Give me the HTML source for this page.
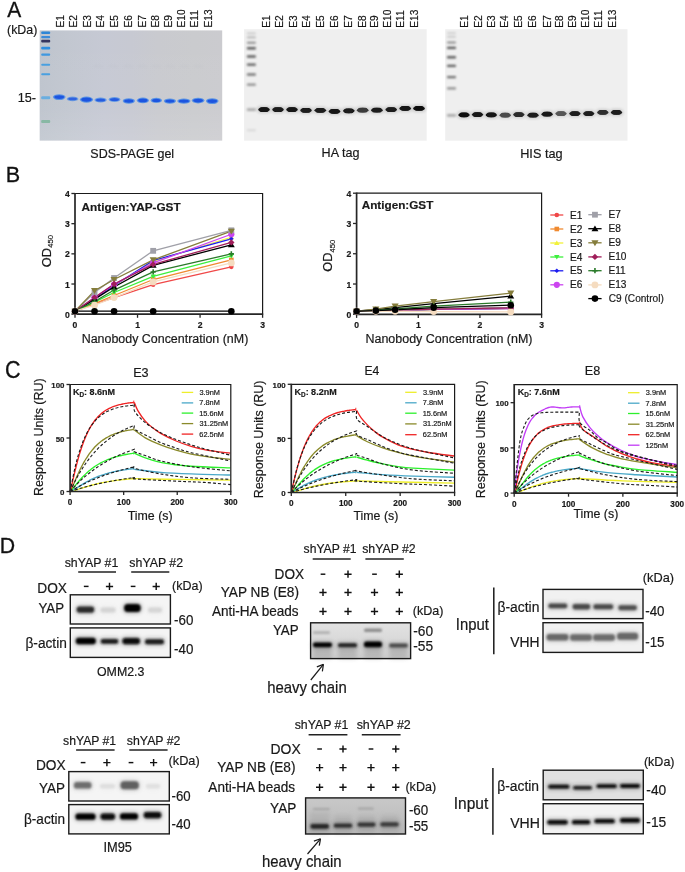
<!DOCTYPE html>
<html><head><meta charset="utf-8"><style>
html,body{margin:0;padding:0;background:#fff;}
body{width:685px;height:872px;overflow:hidden;}
svg{display:block;filter:blur(0.3px);}
text{font-family:'Liberation Sans', sans-serif;stroke:#111;stroke-width:0.18px;}
</style></head><body>
<svg width="685" height="872" viewBox="0 0 685 872" font-family="'Liberation Sans', sans-serif">
<defs>
<filter id="b05" x="-50%" y="-50%" width="200%" height="200%"><feGaussianBlur stdDeviation="0.5"/></filter>
<filter id="b06" x="-50%" y="-80%" width="200%" height="260%"><feGaussianBlur stdDeviation="0.6"/></filter>
<filter id="b08" x="-50%" y="-80%" width="200%" height="260%"><feGaussianBlur stdDeviation="0.8"/></filter>
<filter id="b1" x="-50%" y="-80%" width="200%" height="260%"><feGaussianBlur stdDeviation="1"/></filter>
<filter id="b15" x="-50%" y="-100%" width="200%" height="300%"><feGaussianBlur stdDeviation="1.5"/></filter>
<filter id="b2" x="-50%" y="-100%" width="200%" height="300%"><feGaussianBlur stdDeviation="2"/></filter>
<filter id="b3" x="-50%" y="-100%" width="200%" height="300%"><feGaussianBlur stdDeviation="3"/></filter>
<filter id="txt" x="-5%" y="-20%" width="110%" height="140%"><feGaussianBlur stdDeviation="0.25"/></filter>
</defs>
<rect width="685" height="872" fill="#fff"/>
<text transform="translate(7.36,16.50) scale(1.0481,1.1047)" font-size="20.0" fill="#111" style="stroke-width:0.279px">A</text>
<text transform="translate(5.63,181.70) scale(1.0804,1.1192)" font-size="20.0" fill="#111" style="stroke-width:0.273px">B</text>
<text transform="translate(5.01,378.08) scale(1.0737,1.1511)" font-size="20.0" fill="#111" style="stroke-width:0.270px">C</text>
<text transform="translate(-0.25,552.50) scale(1.0637,1.1192)" font-size="20.0" fill="#111" style="stroke-width:0.275px">D</text>
<text transform="translate(7.03,33.60) scale(1,1.07)" font-size="12.41" fill="#1a1a1a">(kDa)</text>
<text transform="translate(17.63,102.00) scale(1,1.07)" font-size="12.68" fill="#1a1a1a">15-</text>
<defs><linearGradient id="g1bg" x1="0" x2="1" y1="0" y2="0"><stop offset="0" stop-color="#bec4cd"/><stop offset="0.15" stop-color="#c2c7d0"/><stop offset="0.35" stop-color="#c6c9d4"/><stop offset="0.5" stop-color="#c7c9d2"/><stop offset="0.65" stop-color="#c9cacf"/><stop offset="0.85" stop-color="#cacbce"/><stop offset="1" stop-color="#cbcbcf"/></linearGradient><linearGradient id="g1v" x1="0" x2="0" y1="0" y2="1"><stop offset="0" stop-color="#fff" stop-opacity="0"/><stop offset="0.7" stop-color="#fff" stop-opacity="0.03"/><stop offset="1" stop-color="#fff" stop-opacity="0.12"/></linearGradient></defs>
<rect x="39.7" y="30.4" width="182.5" height="110.19999999999999" fill="url(#g1bg)"/>
<rect x="39.7" y="30.4" width="182.5" height="110.19999999999999" fill="url(#g1v)"/>
<g filter="url(#b05)">
<rect x="41.2" y="31.40" width="9" height="2.6" rx="1" fill="#2f86d6"/>
<rect x="41.2" y="35.95" width="9" height="2.3" rx="1" fill="#3a8ad8"/>
<rect x="41.2" y="39.80" width="9" height="2.6" rx="1" fill="#353660"/>
<rect x="41.2" y="46.80" width="9" height="2.6" rx="1" fill="#2f8ee0"/>
<rect x="41.2" y="53.60" width="9" height="2.2" rx="1" fill="#3f98e0"/>
<rect x="41.2" y="63.70" width="9" height="2.0" rx="1" fill="#4aa0e0"/>
<rect x="41.2" y="73.30" width="9" height="2.0" rx="1" fill="#4aa0e0"/>
<rect x="41.2" y="96.30" width="9" height="3.0" rx="1" fill="#6aaee0"/>
<rect x="41.2" y="119.90" width="9" height="3.0" rx="1" fill="#88b8a4"/>
</g>
<g filter="url(#b05)">
<ellipse cx="59.2" cy="97.1" rx="6.35" ry="2.90" fill="#4f8fe6" opacity="0.90"/>
<ellipse cx="59.2" cy="97.1" rx="4.95" ry="1.90" fill="#1f55e0" opacity="1.00"/>
<ellipse cx="72.6" cy="98.9" rx="5.85" ry="2.40" fill="#4f8fe6" opacity="0.72"/>
<ellipse cx="72.6" cy="98.9" rx="4.45" ry="1.40" fill="#1f55e0" opacity="0.80"/>
<ellipse cx="86.5" cy="99.6" rx="6.60" ry="3.10" fill="#4f8fe6" opacity="0.90"/>
<ellipse cx="86.5" cy="99.6" rx="5.20" ry="2.10" fill="#1f55e0" opacity="1.00"/>
<ellipse cx="100.6" cy="100.0" rx="6.10" ry="2.60" fill="#4f8fe6" opacity="0.81"/>
<ellipse cx="100.6" cy="100.0" rx="4.70" ry="1.60" fill="#1f55e0" opacity="0.90"/>
<ellipse cx="114.5" cy="99.6" rx="5.85" ry="2.50" fill="#4f8fe6" opacity="0.81"/>
<ellipse cx="114.5" cy="99.6" rx="4.45" ry="1.50" fill="#1f55e0" opacity="0.90"/>
<ellipse cx="128.8" cy="101.0" rx="6.10" ry="2.70" fill="#4f8fe6" opacity="0.90"/>
<ellipse cx="128.8" cy="101.0" rx="4.70" ry="1.70" fill="#1f55e0" opacity="1.00"/>
<ellipse cx="142.9" cy="100.4" rx="6.10" ry="2.80" fill="#4f8fe6" opacity="0.90"/>
<ellipse cx="142.9" cy="100.4" rx="4.70" ry="1.80" fill="#1f55e0" opacity="1.00"/>
<ellipse cx="156.3" cy="100.4" rx="5.60" ry="2.60" fill="#4f8fe6" opacity="0.90"/>
<ellipse cx="156.3" cy="100.4" rx="4.20" ry="1.60" fill="#1f55e0" opacity="1.00"/>
<ellipse cx="169.9" cy="101.1" rx="6.10" ry="2.70" fill="#4f8fe6" opacity="0.90"/>
<ellipse cx="169.9" cy="101.1" rx="4.70" ry="1.70" fill="#1f55e0" opacity="1.00"/>
<ellipse cx="183.9" cy="101.1" rx="6.60" ry="2.70" fill="#4f8fe6" opacity="0.90"/>
<ellipse cx="183.9" cy="101.1" rx="5.20" ry="1.70" fill="#1f55e0" opacity="1.00"/>
<ellipse cx="198.1" cy="100.6" rx="6.35" ry="2.80" fill="#4f8fe6" opacity="0.90"/>
<ellipse cx="198.1" cy="100.6" rx="4.95" ry="1.80" fill="#1f55e0" opacity="1.00"/>
<ellipse cx="212.2" cy="101.1" rx="6.35" ry="2.90" fill="#4f8fe6" opacity="0.90"/>
<ellipse cx="212.2" cy="101.1" rx="4.95" ry="1.90" fill="#1f55e0" opacity="1.00"/>
</g>
<ellipse cx="98" cy="66" rx="5" ry="1.5" fill="#b8bcc4" opacity="0.15" filter="url(#b08)"/>
<ellipse cx="113" cy="66" rx="5" ry="1.5" fill="#b8bcc4" opacity="0.15" filter="url(#b08)"/>
<ellipse cx="128" cy="66" rx="5" ry="1.5" fill="#b8bcc4" opacity="0.15" filter="url(#b08)"/>
<ellipse cx="142" cy="66" rx="5" ry="1.5" fill="#b8bcc4" opacity="0.15" filter="url(#b08)"/>
<ellipse cx="156" cy="66" rx="5" ry="1.5" fill="#b8bcc4" opacity="0.15" filter="url(#b08)"/>
<ellipse cx="170" cy="66" rx="5" ry="1.5" fill="#b8bcc4" opacity="0.15" filter="url(#b08)"/>
<ellipse cx="184" cy="66" rx="5" ry="1.5" fill="#b8bcc4" opacity="0.15" filter="url(#b08)"/>
<ellipse cx="198" cy="66" rx="5" ry="1.5" fill="#b8bcc4" opacity="0.15" filter="url(#b08)"/>
<text transform="translate(90.33,157.80) scale(1,1.07)" font-size="12.51" fill="#1a1a1a">SDS-PAGE gel</text>
<rect x="244.1" y="29.2" width="182.6" height="111.49999999999999" fill="#efefef"/>
<rect x="244.1" y="29.2" width="8.7" height="111.49999999999999" fill="#fff" opacity="0.039"/>
<rect x="252.8" y="29.2" width="7.1" height="111.49999999999999" fill="#fff" opacity="0.019"/>
<rect x="259.9" y="29.2" width="6.5" height="111.49999999999999" fill="#fff" opacity="0.003"/>
<rect x="266.3" y="29.2" width="3.6" height="111.49999999999999" fill="#fff" opacity="0.036"/>
<rect x="269.9" y="29.2" width="8.0" height="111.49999999999999" fill="#fff" opacity="0.014"/>
<rect x="277.9" y="29.2" width="7.9" height="111.49999999999999" fill="#fff" opacity="0.031"/>
<rect x="285.8" y="29.2" width="3.8" height="111.49999999999999" fill="#fff" opacity="0.011"/>
<rect x="289.6" y="29.2" width="5.6" height="111.49999999999999" fill="#fff" opacity="0.006"/>
<rect x="295.2" y="29.2" width="3.1" height="111.49999999999999" fill="#fff" opacity="0.018"/>
<rect x="298.3" y="29.2" width="8.5" height="111.49999999999999" fill="#fff" opacity="0.011"/>
<rect x="306.7" y="29.2" width="5.8" height="111.49999999999999" fill="#fff" opacity="0.041"/>
<rect x="312.5" y="29.2" width="5.4" height="111.49999999999999" fill="#fff" opacity="0.047"/>
<rect x="317.8" y="29.2" width="7.0" height="111.49999999999999" fill="#fff" opacity="0.025"/>
<rect x="324.8" y="29.2" width="3.0" height="111.49999999999999" fill="#fff" opacity="0.025"/>
<rect x="327.8" y="29.2" width="8.2" height="111.49999999999999" fill="#fff" opacity="0.012"/>
<rect x="336.0" y="29.2" width="5.7" height="111.49999999999999" fill="#fff" opacity="0.046"/>
<rect x="341.7" y="29.2" width="8.0" height="111.49999999999999" fill="#fff" opacity="0.007"/>
<rect x="349.7" y="29.2" width="7.1" height="111.49999999999999" fill="#fff" opacity="0.038"/>
<rect x="356.8" y="29.2" width="5.0" height="111.49999999999999" fill="#fff" opacity="0.044"/>
<rect x="361.8" y="29.2" width="8.4" height="111.49999999999999" fill="#fff" opacity="0.019"/>
<rect x="370.2" y="29.2" width="4.7" height="111.49999999999999" fill="#fff" opacity="0.002"/>
<rect x="374.8" y="29.2" width="4.1" height="111.49999999999999" fill="#fff" opacity="0.013"/>
<rect x="378.9" y="29.2" width="4.6" height="111.49999999999999" fill="#fff" opacity="0.004"/>
<rect x="383.5" y="29.2" width="3.5" height="111.49999999999999" fill="#fff" opacity="0.009"/>
<rect x="387.0" y="29.2" width="8.2" height="111.49999999999999" fill="#fff" opacity="0.004"/>
<rect x="395.2" y="29.2" width="5.6" height="111.49999999999999" fill="#fff" opacity="0.026"/>
<rect x="400.9" y="29.2" width="5.6" height="111.49999999999999" fill="#fff" opacity="0.027"/>
<rect x="406.5" y="29.2" width="7.5" height="111.49999999999999" fill="#fff" opacity="0.002"/>
<rect x="413.9" y="29.2" width="3.1" height="111.49999999999999" fill="#fff" opacity="0.023"/>
<rect x="417.0" y="29.2" width="6.4" height="111.49999999999999" fill="#fff" opacity="0.029"/>
<rect x="423.5" y="29.2" width="3.2" height="111.49999999999999" fill="#fff" opacity="0.010"/>
<g filter="url(#b08)">
<rect x="246.9" y="32.60" width="9" height="1.6" rx="0.8" fill="#c8c8c8"/>
<rect x="246.9" y="36.40" width="9" height="1.8" rx="0.8" fill="#b0b0b0"/>
<rect x="246.9" y="41.80" width="9" height="2.0" rx="0.8" fill="#8a8a8a"/>
<rect x="246.9" y="47.10" width="9" height="2.4" rx="0.8" fill="#5a5a5a"/>
<rect x="246.9" y="55.30" width="9" height="2.4" rx="0.8" fill="#606060"/>
<rect x="246.9" y="63.50" width="9" height="2.2" rx="0.8" fill="#5e5e5e"/>
<rect x="246.9" y="73.30" width="9" height="2.4" rx="0.8" fill="#7a7a7a"/>
<rect x="246.9" y="83.40" width="9" height="2.4" rx="0.8" fill="#8e8e8e"/>
<rect x="246.9" y="108.20" width="9" height="2.8" rx="0.8" fill="#aaaaaa"/>
<rect x="246.9" y="129.20" width="9" height="2.0" rx="0.8" fill="#d8d8d8"/>
</g>
<g>
<rect x="257.20" y="106.25" width="13.60" height="6.70" rx="3.35" fill="#151515" opacity="0.18" filter="url(#b15)"/>
<ellipse cx="264.00" cy="109.60" rx="5.80" ry="2.35" fill="#151515" filter="url(#b06)"/>
<rect x="259.36" y="107.25" width="9.28" height="4.70" rx="1.88" fill="#151515" filter="url(#b06)"/>
<rect x="271.20" y="106.25" width="13.60" height="6.70" rx="3.35" fill="#1a1a1a" opacity="0.18" filter="url(#b15)"/>
<ellipse cx="278.00" cy="109.60" rx="5.80" ry="2.35" fill="#1a1a1a" filter="url(#b06)"/>
<rect x="273.36" y="107.25" width="9.28" height="4.70" rx="1.88" fill="#1a1a1a" filter="url(#b06)"/>
<rect x="285.20" y="106.25" width="13.60" height="6.70" rx="3.35" fill="#151515" opacity="0.18" filter="url(#b15)"/>
<ellipse cx="292.00" cy="109.60" rx="5.80" ry="2.35" fill="#151515" filter="url(#b06)"/>
<rect x="287.36" y="107.25" width="9.28" height="4.70" rx="1.88" fill="#151515" filter="url(#b06)"/>
<rect x="299.20" y="106.95" width="13.60" height="6.70" rx="3.35" fill="#1a1a1a" opacity="0.18" filter="url(#b15)"/>
<ellipse cx="306.00" cy="110.30" rx="5.80" ry="2.35" fill="#1a1a1a" filter="url(#b06)"/>
<rect x="301.36" y="107.95" width="9.28" height="4.70" rx="1.88" fill="#1a1a1a" filter="url(#b06)"/>
<rect x="313.50" y="106.95" width="13.60" height="6.70" rx="3.35" fill="#1e1e1e" opacity="0.18" filter="url(#b15)"/>
<ellipse cx="320.30" cy="110.30" rx="5.80" ry="2.35" fill="#1e1e1e" filter="url(#b06)"/>
<rect x="315.66" y="107.95" width="9.28" height="4.70" rx="1.88" fill="#1e1e1e" filter="url(#b06)"/>
<rect x="327.70" y="108.05" width="13.60" height="6.70" rx="3.35" fill="#151515" opacity="0.18" filter="url(#b15)"/>
<ellipse cx="334.50" cy="111.40" rx="5.80" ry="2.35" fill="#151515" filter="url(#b06)"/>
<rect x="329.86" y="109.05" width="9.28" height="4.70" rx="1.88" fill="#151515" filter="url(#b06)"/>
<rect x="342.00" y="107.45" width="13.60" height="6.70" rx="3.35" fill="#1a1a1a" opacity="0.18" filter="url(#b15)"/>
<ellipse cx="348.80" cy="110.80" rx="5.80" ry="2.35" fill="#1a1a1a" filter="url(#b06)"/>
<rect x="344.16" y="108.45" width="9.28" height="4.70" rx="1.88" fill="#1a1a1a" filter="url(#b06)"/>
<rect x="355.90" y="106.85" width="13.60" height="6.70" rx="3.35" fill="#3a3a3a" opacity="0.18" filter="url(#b15)"/>
<ellipse cx="362.70" cy="110.20" rx="5.80" ry="2.35" fill="#3a3a3a" filter="url(#b06)"/>
<rect x="358.06" y="107.85" width="9.28" height="4.70" rx="1.88" fill="#3a3a3a" filter="url(#b06)"/>
<rect x="370.10" y="106.85" width="13.60" height="6.70" rx="3.35" fill="#1e1e1e" opacity="0.18" filter="url(#b15)"/>
<ellipse cx="376.90" cy="110.20" rx="5.80" ry="2.35" fill="#1e1e1e" filter="url(#b06)"/>
<rect x="372.26" y="107.85" width="9.28" height="4.70" rx="1.88" fill="#1e1e1e" filter="url(#b06)"/>
<rect x="384.40" y="106.25" width="13.60" height="6.70" rx="3.35" fill="#1a1a1a" opacity="0.18" filter="url(#b15)"/>
<ellipse cx="391.20" cy="109.60" rx="5.80" ry="2.35" fill="#1a1a1a" filter="url(#b06)"/>
<rect x="386.56" y="107.25" width="9.28" height="4.70" rx="1.88" fill="#1a1a1a" filter="url(#b06)"/>
<rect x="398.40" y="105.05" width="13.60" height="6.70" rx="3.35" fill="#151515" opacity="0.18" filter="url(#b15)"/>
<ellipse cx="405.20" cy="108.40" rx="5.80" ry="2.35" fill="#151515" filter="url(#b06)"/>
<rect x="400.56" y="106.05" width="9.28" height="4.70" rx="1.88" fill="#151515" filter="url(#b06)"/>
<rect x="412.20" y="105.05" width="13.60" height="6.70" rx="3.35" fill="#111" opacity="0.18" filter="url(#b15)"/>
<ellipse cx="419.00" cy="108.40" rx="5.80" ry="2.35" fill="#111" filter="url(#b06)"/>
<rect x="414.36" y="106.05" width="9.28" height="4.70" rx="1.88" fill="#111" filter="url(#b06)"/>
</g>
<text transform="translate(321.57,157.40) scale(1,1.07)" font-size="12.61" fill="#1a1a1a">HA tag</text>
<rect x="445.2" y="29.2" width="182.3" height="111.49999999999999" fill="#efefef"/>
<rect x="445.2" y="29.2" width="6.3" height="111.49999999999999" fill="#fff" opacity="0.012"/>
<rect x="451.5" y="29.2" width="5.4" height="111.49999999999999" fill="#fff" opacity="0.048"/>
<rect x="456.9" y="29.2" width="8.3" height="111.49999999999999" fill="#fff" opacity="0.020"/>
<rect x="465.2" y="29.2" width="7.4" height="111.49999999999999" fill="#fff" opacity="0.016"/>
<rect x="472.6" y="29.2" width="8.0" height="111.49999999999999" fill="#fff" opacity="0.039"/>
<rect x="480.7" y="29.2" width="8.3" height="111.49999999999999" fill="#fff" opacity="0.021"/>
<rect x="488.9" y="29.2" width="4.5" height="111.49999999999999" fill="#fff" opacity="0.018"/>
<rect x="493.4" y="29.2" width="6.0" height="111.49999999999999" fill="#fff" opacity="0.045"/>
<rect x="499.4" y="29.2" width="3.3" height="111.49999999999999" fill="#fff" opacity="0.042"/>
<rect x="502.8" y="29.2" width="4.8" height="111.49999999999999" fill="#fff" opacity="0.017"/>
<rect x="507.6" y="29.2" width="6.5" height="111.49999999999999" fill="#fff" opacity="0.030"/>
<rect x="514.1" y="29.2" width="6.8" height="111.49999999999999" fill="#fff" opacity="0.038"/>
<rect x="520.8" y="29.2" width="4.8" height="111.49999999999999" fill="#fff" opacity="0.030"/>
<rect x="525.6" y="29.2" width="4.9" height="111.49999999999999" fill="#fff" opacity="0.000"/>
<rect x="530.5" y="29.2" width="8.3" height="111.49999999999999" fill="#fff" opacity="0.009"/>
<rect x="538.8" y="29.2" width="4.3" height="111.49999999999999" fill="#fff" opacity="0.008"/>
<rect x="543.1" y="29.2" width="3.0" height="111.49999999999999" fill="#fff" opacity="0.019"/>
<rect x="546.2" y="29.2" width="8.1" height="111.49999999999999" fill="#fff" opacity="0.032"/>
<rect x="554.3" y="29.2" width="6.1" height="111.49999999999999" fill="#fff" opacity="0.017"/>
<rect x="560.4" y="29.2" width="5.7" height="111.49999999999999" fill="#fff" opacity="0.015"/>
<rect x="566.1" y="29.2" width="4.4" height="111.49999999999999" fill="#fff" opacity="0.025"/>
<rect x="570.5" y="29.2" width="3.0" height="111.49999999999999" fill="#fff" opacity="0.041"/>
<rect x="573.5" y="29.2" width="5.0" height="111.49999999999999" fill="#fff" opacity="0.032"/>
<rect x="578.5" y="29.2" width="8.6" height="111.49999999999999" fill="#fff" opacity="0.029"/>
<rect x="587.2" y="29.2" width="3.5" height="111.49999999999999" fill="#fff" opacity="0.015"/>
<rect x="590.7" y="29.2" width="6.9" height="111.49999999999999" fill="#fff" opacity="0.036"/>
<rect x="597.6" y="29.2" width="7.6" height="111.49999999999999" fill="#fff" opacity="0.011"/>
<rect x="605.1" y="29.2" width="5.1" height="111.49999999999999" fill="#fff" opacity="0.032"/>
<rect x="610.2" y="29.2" width="3.4" height="111.49999999999999" fill="#fff" opacity="0.016"/>
<rect x="613.6" y="29.2" width="4.6" height="111.49999999999999" fill="#fff" opacity="0.010"/>
<rect x="618.2" y="29.2" width="7.9" height="111.49999999999999" fill="#fff" opacity="0.042"/>
<g filter="url(#b08)">
<rect x="447.0" y="32.30" width="9" height="1.6" rx="0.8" fill="#cccccc"/>
<rect x="447.0" y="35.90" width="9" height="1.6" rx="0.8" fill="#c0c0c0"/>
<rect x="447.0" y="41.40" width="9" height="2.0" rx="0.8" fill="#8a8a8a"/>
<rect x="447.0" y="46.70" width="9" height="2.4" rx="0.8" fill="#555555"/>
<rect x="447.0" y="56.10" width="9" height="2.4" rx="0.8" fill="#606060"/>
<rect x="447.0" y="64.80" width="9" height="2.2" rx="0.8" fill="#5e5e5e"/>
<rect x="447.0" y="75.90" width="9" height="2.4" rx="0.8" fill="#6e6e6e"/>
<rect x="447.0" y="87.20" width="9" height="2.4" rx="0.8" fill="#8e8e8e"/>
<rect x="447.0" y="114.00" width="9" height="2.8" rx="0.8" fill="#aaaaaa"/>
</g>
<g>
<rect x="457.40" y="111.55" width="13.20" height="6.70" rx="3.35" fill="#111" opacity="0.18" filter="url(#b15)"/>
<ellipse cx="464.00" cy="114.90" rx="5.60" ry="2.35" fill="#111" filter="url(#b06)"/>
<rect x="459.52" y="112.55" width="8.96" height="4.70" rx="1.88" fill="#111" filter="url(#b06)"/>
<rect x="470.90" y="111.25" width="13.20" height="6.70" rx="3.35" fill="#151515" opacity="0.18" filter="url(#b15)"/>
<ellipse cx="477.50" cy="114.60" rx="5.60" ry="2.35" fill="#151515" filter="url(#b06)"/>
<rect x="473.02" y="112.25" width="8.96" height="4.70" rx="1.88" fill="#151515" filter="url(#b06)"/>
<rect x="484.70" y="111.55" width="13.20" height="6.70" rx="3.35" fill="#151515" opacity="0.18" filter="url(#b15)"/>
<ellipse cx="491.30" cy="114.90" rx="5.60" ry="2.35" fill="#151515" filter="url(#b06)"/>
<rect x="486.82" y="112.55" width="8.96" height="4.70" rx="1.88" fill="#151515" filter="url(#b06)"/>
<rect x="498.60" y="111.85" width="13.20" height="6.70" rx="3.35" fill="#4a4a4a" opacity="0.18" filter="url(#b15)"/>
<ellipse cx="505.20" cy="115.20" rx="5.60" ry="2.35" fill="#4a4a4a" filter="url(#b06)"/>
<rect x="500.72" y="112.85" width="8.96" height="4.70" rx="1.88" fill="#4a4a4a" filter="url(#b06)"/>
<rect x="512.20" y="111.25" width="13.20" height="6.70" rx="3.35" fill="#2a2a2a" opacity="0.18" filter="url(#b15)"/>
<ellipse cx="518.80" cy="114.60" rx="5.60" ry="2.35" fill="#2a2a2a" filter="url(#b06)"/>
<rect x="514.32" y="112.25" width="8.96" height="4.70" rx="1.88" fill="#2a2a2a" filter="url(#b06)"/>
<rect x="526.40" y="111.85" width="13.20" height="6.70" rx="3.35" fill="#1e1e1e" opacity="0.18" filter="url(#b15)"/>
<ellipse cx="533.00" cy="115.20" rx="5.60" ry="2.35" fill="#1e1e1e" filter="url(#b06)"/>
<rect x="528.52" y="112.85" width="8.96" height="4.70" rx="1.88" fill="#1e1e1e" filter="url(#b06)"/>
<rect x="540.50" y="110.85" width="13.20" height="6.70" rx="3.35" fill="#151515" opacity="0.18" filter="url(#b15)"/>
<ellipse cx="547.10" cy="114.20" rx="5.60" ry="2.35" fill="#151515" filter="url(#b06)"/>
<rect x="542.62" y="111.85" width="8.96" height="4.70" rx="1.88" fill="#151515" filter="url(#b06)"/>
<rect x="554.40" y="110.25" width="13.20" height="6.70" rx="3.35" fill="#555" opacity="0.18" filter="url(#b15)"/>
<ellipse cx="561.00" cy="113.60" rx="5.60" ry="2.35" fill="#555" filter="url(#b06)"/>
<rect x="556.52" y="111.25" width="8.96" height="4.70" rx="1.88" fill="#555" filter="url(#b06)"/>
<rect x="568.30" y="110.25" width="13.20" height="6.70" rx="3.35" fill="#1e1e1e" opacity="0.18" filter="url(#b15)"/>
<ellipse cx="574.90" cy="113.60" rx="5.60" ry="2.35" fill="#1e1e1e" filter="url(#b06)"/>
<rect x="570.42" y="111.25" width="8.96" height="4.70" rx="1.88" fill="#1e1e1e" filter="url(#b06)"/>
<rect x="582.10" y="110.25" width="13.20" height="6.70" rx="3.35" fill="#1e1e1e" opacity="0.18" filter="url(#b15)"/>
<ellipse cx="588.70" cy="113.60" rx="5.60" ry="2.35" fill="#1e1e1e" filter="url(#b06)"/>
<rect x="584.22" y="111.25" width="8.96" height="4.70" rx="1.88" fill="#1e1e1e" filter="url(#b06)"/>
<rect x="596.20" y="109.05" width="13.20" height="6.70" rx="3.35" fill="#2e2e2e" opacity="0.18" filter="url(#b15)"/>
<ellipse cx="602.80" cy="112.40" rx="5.60" ry="2.35" fill="#2e2e2e" filter="url(#b06)"/>
<rect x="598.32" y="110.05" width="8.96" height="4.70" rx="1.88" fill="#2e2e2e" filter="url(#b06)"/>
<rect x="609.90" y="109.05" width="13.20" height="6.70" rx="3.35" fill="#1a1a1a" opacity="0.18" filter="url(#b15)"/>
<ellipse cx="616.50" cy="112.40" rx="5.60" ry="2.35" fill="#1a1a1a" filter="url(#b06)"/>
<rect x="612.02" y="110.05" width="8.96" height="4.70" rx="1.88" fill="#1a1a1a" filter="url(#b06)"/>
</g>
<text transform="translate(520.16,157.60) scale(1,1.07)" font-size="12.73" fill="#1a1a1a">HIS tag</text>
<text transform="translate(64.01,27.44) rotate(-90)" font-size="10.2" fill="#1a1a1a">E1</text>
<text transform="translate(77.41,27.44) rotate(-90)" font-size="10.2" fill="#1a1a1a">E2</text>
<text transform="translate(90.71,27.44) rotate(-90)" font-size="10.2" fill="#1a1a1a">E3</text>
<text transform="translate(104.01,27.44) rotate(-90)" font-size="10.2" fill="#1a1a1a">E4</text>
<text transform="translate(118.01,27.44) rotate(-90)" font-size="10.2" fill="#1a1a1a">E5</text>
<text transform="translate(132.31,27.44) rotate(-90)" font-size="10.2" fill="#1a1a1a">E6</text>
<text transform="translate(145.51,27.44) rotate(-90)" font-size="10.2" fill="#1a1a1a">E7</text>
<text transform="translate(159.01,27.44) rotate(-90)" font-size="10.2" fill="#1a1a1a">E8</text>
<text transform="translate(172.01,27.44) rotate(-90)" font-size="10.2" fill="#1a1a1a">E9</text>
<text transform="translate(185.31,27.44) rotate(-90)" font-size="10.2" fill="#1a1a1a">E10</text>
<text transform="translate(198.11,27.44) rotate(-90)" font-size="10.2" fill="#1a1a1a">E11</text>
<text transform="translate(212.01,27.44) rotate(-90)" font-size="10.2" fill="#1a1a1a">E13</text>
<text transform="translate(269.51,27.74) rotate(-90)" font-size="10.2" fill="#1a1a1a">E1</text>
<text transform="translate(283.21,27.74) rotate(-90)" font-size="10.2" fill="#1a1a1a">E2</text>
<text transform="translate(296.61,27.74) rotate(-90)" font-size="10.2" fill="#1a1a1a">E3</text>
<text transform="translate(309.81,27.74) rotate(-90)" font-size="10.2" fill="#1a1a1a">E4</text>
<text transform="translate(323.91,27.74) rotate(-90)" font-size="10.2" fill="#1a1a1a">E5</text>
<text transform="translate(338.31,27.74) rotate(-90)" font-size="10.2" fill="#1a1a1a">E6</text>
<text transform="translate(352.41,27.74) rotate(-90)" font-size="10.2" fill="#1a1a1a">E7</text>
<text transform="translate(365.51,27.74) rotate(-90)" font-size="10.2" fill="#1a1a1a">E8</text>
<text transform="translate(378.01,27.74) rotate(-90)" font-size="10.2" fill="#1a1a1a">E9</text>
<text transform="translate(391.41,27.74) rotate(-90)" font-size="10.2" fill="#1a1a1a">E10</text>
<text transform="translate(404.21,27.74) rotate(-90)" font-size="10.2" fill="#1a1a1a">E11</text>
<text transform="translate(418.21,27.74) rotate(-90)" font-size="10.2" fill="#1a1a1a">E13</text>
<text transform="translate(468.01,27.74) rotate(-90)" font-size="10.2" fill="#1a1a1a">E1</text>
<text transform="translate(481.51,27.74) rotate(-90)" font-size="10.2" fill="#1a1a1a">E2</text>
<text transform="translate(494.51,27.74) rotate(-90)" font-size="10.2" fill="#1a1a1a">E3</text>
<text transform="translate(508.11,27.74) rotate(-90)" font-size="10.2" fill="#1a1a1a">E4</text>
<text transform="translate(522.21,27.74) rotate(-90)" font-size="10.2" fill="#1a1a1a">E5</text>
<text transform="translate(536.31,27.74) rotate(-90)" font-size="10.2" fill="#1a1a1a">E6</text>
<text transform="translate(550.51,27.74) rotate(-90)" font-size="10.2" fill="#1a1a1a">E7</text>
<text transform="translate(563.31,27.74) rotate(-90)" font-size="10.2" fill="#1a1a1a">E8</text>
<text transform="translate(576.31,27.74) rotate(-90)" font-size="10.2" fill="#1a1a1a">E9</text>
<text transform="translate(589.31,27.74) rotate(-90)" font-size="10.2" fill="#1a1a1a">E10</text>
<text transform="translate(602.31,27.74) rotate(-90)" font-size="10.2" fill="#1a1a1a">E11</text>
<text transform="translate(616.11,27.74) rotate(-90)" font-size="10.2" fill="#1a1a1a">E13</text>
<path d="M75.0,193.5 H262.6 V314.2" stroke="#1a1a1a" stroke-width="1.2" fill="none"/>
<path d="M75.0,192.9 V314.2 H263.20000000000005" stroke="#262626" stroke-width="1.7" fill="none"/>
<path d="M71.4,314.20 H75.0" stroke="#262626" stroke-width="1.3"/>
<path d="M71.4,284.02 H75.0" stroke="#262626" stroke-width="1.3"/>
<path d="M71.4,253.85 H75.0" stroke="#262626" stroke-width="1.3"/>
<path d="M71.4,223.68 H75.0" stroke="#262626" stroke-width="1.3"/>
<path d="M71.4,193.50 H75.0" stroke="#262626" stroke-width="1.3"/>
<path d="M75.00,314.2 V317.8" stroke="#262626" stroke-width="1.3"/>
<path d="M137.53,314.2 V317.8" stroke="#262626" stroke-width="1.3"/>
<path d="M200.07,314.2 V317.8" stroke="#262626" stroke-width="1.3"/>
<path d="M262.60,314.2 V317.8" stroke="#262626" stroke-width="1.3"/>
<text x="69.80" y="317.80" font-size="8.60" font-weight="bold" text-anchor="end" fill="#1a1a1a">0</text>
<text x="69.80" y="287.62" font-size="8.60" font-weight="bold" text-anchor="end" fill="#1a1a1a">1</text>
<text x="69.80" y="257.45" font-size="8.60" font-weight="bold" text-anchor="end" fill="#1a1a1a">2</text>
<text x="69.80" y="227.28" font-size="8.60" font-weight="bold" text-anchor="end" fill="#1a1a1a">3</text>
<text x="69.80" y="197.10" font-size="8.60" font-weight="bold" text-anchor="end" fill="#1a1a1a">4</text>
<text x="75.00" y="328.00" font-size="8.60" font-weight="bold" text-anchor="middle" fill="#1a1a1a">0</text>
<text x="137.53" y="328.00" font-size="8.60" font-weight="bold" text-anchor="middle" fill="#1a1a1a">1</text>
<text x="200.07" y="328.00" font-size="8.60" font-weight="bold" text-anchor="middle" fill="#1a1a1a">2</text>
<text x="262.60" y="328.00" font-size="8.60" font-weight="bold" text-anchor="middle" fill="#1a1a1a">3</text>
<polyline points="75.00,311.18 94.54,304.24 114.08,297.60 153.17,284.63 231.33,266.83" fill="none" stroke="#f04848" stroke-width="1.3"/>
<polyline points="75.00,311.18 94.54,303.64 114.08,295.49 153.17,279.50 231.33,259.88" fill="none" stroke="#f08a30" stroke-width="1.3"/>
<polyline points="75.00,311.18 94.54,299.11 114.08,285.53 153.17,261.39 231.33,237.25" fill="none" stroke="#f2f23a" stroke-width="1.3"/>
<polyline points="75.00,311.18 94.54,302.13 114.08,292.47 153.17,276.48 231.33,255.96" fill="none" stroke="#3cf03c" stroke-width="1.3"/>
<polyline points="75.00,311.18 94.54,299.11 114.08,285.53 153.17,260.49 231.33,238.76" fill="none" stroke="#1c1cf0" stroke-width="1.3"/>
<polyline points="75.00,311.18 94.54,297.60 114.08,284.63 153.17,262.90 231.33,234.24" fill="none" stroke="#cc44f0" stroke-width="1.3"/>
<polyline points="75.00,311.18 94.54,292.47 114.08,277.99 153.17,250.83 231.33,230.31" fill="none" stroke="#a0a0a8" stroke-width="1.3"/>
<polyline points="75.00,311.18 94.54,299.11 114.08,287.04 153.17,265.32 231.33,244.80" fill="none" stroke="#000000" stroke-width="1.3"/>
<polyline points="75.00,311.18 94.54,290.66 114.08,279.50 153.17,259.88 231.33,231.22" fill="none" stroke="#857d3c" stroke-width="1.3"/>
<polyline points="75.00,311.18 94.54,297.60 114.08,284.02 153.17,264.41 231.33,242.38" fill="none" stroke="#a01e5a" stroke-width="1.3"/>
<polyline points="75.00,311.18 94.54,301.53 114.08,290.06 153.17,271.95 231.33,253.85" fill="none" stroke="#2a7a2a" stroke-width="1.3"/>
<polyline points="75.00,311.18 94.54,305.15 114.08,297.60 153.17,281.91 231.33,262.90" fill="none" stroke="#f5dcc0" stroke-width="1.3"/>
<polyline points="75.00,311.18 94.54,311.18 114.08,311.18 153.17,311.18 231.33,311.18" fill="none" stroke="#000000" stroke-width="1.3"/>
<circle cx="75.00" cy="311.18" r="2.3" fill="#f04848"/>
<circle cx="94.54" cy="304.24" r="2.3" fill="#f04848"/>
<circle cx="114.08" cy="297.60" r="2.3" fill="#f04848"/>
<circle cx="153.17" cy="284.63" r="2.3" fill="#f04848"/>
<circle cx="231.33" cy="266.83" r="2.3" fill="#f04848"/>
<rect x="72.70" y="308.88" width="4.6" height="4.6" fill="#f08a30"/>
<rect x="92.24" y="301.34" width="4.6" height="4.6" fill="#f08a30"/>
<rect x="111.78" y="293.19" width="4.6" height="4.6" fill="#f08a30"/>
<rect x="150.87" y="277.20" width="4.6" height="4.6" fill="#f08a30"/>
<rect x="229.03" y="257.58" width="4.6" height="4.6" fill="#f08a30"/>
<path d="M75.00,308.58 L77.73,313.13 L72.27,313.13Z" fill="#f2f23a"/>
<path d="M94.54,296.51 L97.27,301.06 L91.81,301.06Z" fill="#f2f23a"/>
<path d="M114.08,282.93 L116.81,287.48 L111.35,287.48Z" fill="#f2f23a"/>
<path d="M153.17,258.79 L155.90,263.34 L150.44,263.34Z" fill="#f2f23a"/>
<path d="M231.33,234.65 L234.06,239.20 L228.60,239.20Z" fill="#f2f23a"/>
<path d="M75.00,313.78 L77.73,309.23 L72.27,309.23Z" fill="#3cf03c"/>
<path d="M94.54,304.73 L97.27,300.18 L91.81,300.18Z" fill="#3cf03c"/>
<path d="M114.08,295.07 L116.81,290.52 L111.35,290.52Z" fill="#3cf03c"/>
<path d="M153.17,279.08 L155.90,274.53 L150.44,274.53Z" fill="#3cf03c"/>
<path d="M231.33,258.56 L234.06,254.01 L228.60,254.01Z" fill="#3cf03c"/>
<path d="M75.00,308.88 L77.30,311.18 L75.00,313.48 L72.70,311.18Z" fill="#1c1cf0"/>
<path d="M94.54,296.81 L96.84,299.11 L94.54,301.41 L92.24,299.11Z" fill="#1c1cf0"/>
<path d="M114.08,283.23 L116.38,285.53 L114.08,287.83 L111.78,285.53Z" fill="#1c1cf0"/>
<path d="M153.17,258.19 L155.47,260.49 L153.17,262.79 L150.87,260.49Z" fill="#1c1cf0"/>
<path d="M231.33,236.46 L233.63,238.76 L231.33,241.06 L229.03,238.76Z" fill="#1c1cf0"/>
<circle cx="75.00" cy="311.18" r="3.1" fill="#cc44f0"/>
<circle cx="94.54" cy="297.60" r="3.1" fill="#cc44f0"/>
<circle cx="114.08" cy="284.63" r="3.1" fill="#cc44f0"/>
<circle cx="153.17" cy="262.90" r="3.1" fill="#cc44f0"/>
<circle cx="231.33" cy="234.24" r="3.1" fill="#cc44f0"/>
<rect x="72.10" y="308.28" width="5.8" height="5.8" fill="#a0a0a8"/>
<rect x="91.64" y="289.57" width="5.8" height="5.8" fill="#a0a0a8"/>
<rect x="111.18" y="275.09" width="5.8" height="5.8" fill="#a0a0a8"/>
<rect x="150.27" y="247.93" width="5.8" height="5.8" fill="#a0a0a8"/>
<rect x="228.43" y="227.41" width="5.8" height="5.8" fill="#a0a0a8"/>
<path d="M75.00,307.88 L78.47,313.66 L71.53,313.66Z" fill="#000000"/>
<path d="M94.54,295.81 L98.01,301.59 L91.08,301.59Z" fill="#000000"/>
<path d="M114.08,283.74 L117.55,289.52 L110.62,289.52Z" fill="#000000"/>
<path d="M153.17,262.02 L156.63,267.79 L149.70,267.79Z" fill="#000000"/>
<path d="M231.33,241.50 L234.80,247.27 L227.87,247.27Z" fill="#000000"/>
<path d="M75.00,314.58 L78.57,308.63 L71.43,308.63Z" fill="#857d3c"/>
<path d="M94.54,294.06 L98.11,288.11 L90.97,288.11Z" fill="#857d3c"/>
<path d="M114.08,282.90 L117.65,276.95 L110.51,276.95Z" fill="#857d3c"/>
<path d="M153.17,263.28 L156.74,257.33 L149.60,257.33Z" fill="#857d3c"/>
<path d="M231.33,234.62 L234.90,228.67 L227.76,228.67Z" fill="#857d3c"/>
<path d="M75.00,307.98 L78.20,311.18 L75.00,314.38 L71.80,311.18Z" fill="#a01e5a"/>
<path d="M94.54,294.40 L97.74,297.60 L94.54,300.80 L91.34,297.60Z" fill="#a01e5a"/>
<path d="M114.08,280.82 L117.28,284.02 L114.08,287.22 L110.88,284.02Z" fill="#a01e5a"/>
<path d="M153.17,261.21 L156.37,264.41 L153.17,267.61 L149.97,264.41Z" fill="#a01e5a"/>
<path d="M231.33,239.18 L234.53,242.38 L231.33,245.58 L228.13,242.38Z" fill="#a01e5a"/>
<path d="M72.40,311.18 H77.60 M75.00,308.58 V313.78" stroke="#2a7a2a" stroke-width="1.6" fill="none"/>
<path d="M91.94,301.53 H97.14 M94.54,298.93 V304.13" stroke="#2a7a2a" stroke-width="1.6" fill="none"/>
<path d="M111.48,290.06 H116.68 M114.08,287.46 V292.66" stroke="#2a7a2a" stroke-width="1.6" fill="none"/>
<path d="M150.57,271.95 H155.77 M153.17,269.35 V274.56" stroke="#2a7a2a" stroke-width="1.6" fill="none"/>
<path d="M228.73,253.85 H233.93 M231.33,251.25 V256.45" stroke="#2a7a2a" stroke-width="1.6" fill="none"/>
<circle cx="75.00" cy="311.18" r="3.4" fill="#f5dcc0"/>
<circle cx="94.54" cy="305.15" r="3.4" fill="#f5dcc0"/>
<circle cx="114.08" cy="297.60" r="3.4" fill="#f5dcc0"/>
<circle cx="153.17" cy="281.91" r="3.4" fill="#f5dcc0"/>
<circle cx="231.33" cy="262.90" r="3.4" fill="#f5dcc0"/>
<circle cx="75.00" cy="311.18" r="3.3" fill="#000000"/>
<circle cx="94.54" cy="311.18" r="3.3" fill="#000000"/>
<circle cx="114.08" cy="311.18" r="3.3" fill="#000000"/>
<circle cx="153.17" cy="311.18" r="3.3" fill="#000000"/>
<circle cx="231.33" cy="311.18" r="3.3" fill="#000000"/>
<text x="81.61" y="210.50" font-size="11.79" font-weight="bold" fill="#1a1a1a">Antigen:YAP-GST</text>
<text x="81.68" y="342.90" font-size="12.45" fill="#1a1a1a">Nanobody Concentration (nM)</text>
<path d="M356.6,193.2 H541.6 V314.3" stroke="#1a1a1a" stroke-width="1.2" fill="none"/>
<path d="M356.6,192.6 V314.3 H542.2" stroke="#262626" stroke-width="1.7" fill="none"/>
<path d="M353.0,314.30 H356.6" stroke="#262626" stroke-width="1.3"/>
<path d="M353.0,284.02 H356.6" stroke="#262626" stroke-width="1.3"/>
<path d="M353.0,253.75 H356.6" stroke="#262626" stroke-width="1.3"/>
<path d="M353.0,223.47 H356.6" stroke="#262626" stroke-width="1.3"/>
<path d="M353.0,193.20 H356.6" stroke="#262626" stroke-width="1.3"/>
<path d="M356.60,314.3 V317.90000000000003" stroke="#262626" stroke-width="1.3"/>
<path d="M418.27,314.3 V317.90000000000003" stroke="#262626" stroke-width="1.3"/>
<path d="M479.93,314.3 V317.90000000000003" stroke="#262626" stroke-width="1.3"/>
<path d="M541.60,314.3 V317.90000000000003" stroke="#262626" stroke-width="1.3"/>
<text x="351.40" y="317.90" font-size="8.60" font-weight="bold" text-anchor="end" fill="#1a1a1a">0</text>
<text x="351.40" y="287.62" font-size="8.60" font-weight="bold" text-anchor="end" fill="#1a1a1a">1</text>
<text x="351.40" y="257.35" font-size="8.60" font-weight="bold" text-anchor="end" fill="#1a1a1a">2</text>
<text x="351.40" y="227.07" font-size="8.60" font-weight="bold" text-anchor="end" fill="#1a1a1a">3</text>
<text x="351.40" y="196.80" font-size="8.60" font-weight="bold" text-anchor="end" fill="#1a1a1a">4</text>
<text x="356.60" y="328.10" font-size="8.60" font-weight="bold" text-anchor="middle" fill="#1a1a1a">0</text>
<text x="418.27" y="328.10" font-size="8.60" font-weight="bold" text-anchor="middle" fill="#1a1a1a">1</text>
<text x="479.93" y="328.10" font-size="8.60" font-weight="bold" text-anchor="middle" fill="#1a1a1a">2</text>
<text x="541.60" y="328.10" font-size="8.60" font-weight="bold" text-anchor="middle" fill="#1a1a1a">3</text>
<polyline points="356.60,311.27 375.87,310.97 395.14,310.36 433.68,309.46 510.77,308.25" fill="none" stroke="#f04848" stroke-width="1.3"/>
<polyline points="356.60,311.27 375.87,310.97 395.14,310.36 433.68,309.46 510.77,308.25" fill="none" stroke="#f08a30" stroke-width="1.3"/>
<polyline points="356.60,311.27 375.87,310.97 395.14,310.36 433.68,309.46 510.77,308.25" fill="none" stroke="#f2f23a" stroke-width="1.3"/>
<polyline points="356.60,311.27 375.87,310.97 395.14,310.36 433.68,309.46 510.77,308.25" fill="none" stroke="#3cf03c" stroke-width="1.3"/>
<polyline points="356.60,311.27 375.87,310.97 395.14,310.36 433.68,309.46 510.77,308.25" fill="none" stroke="#1c1cf0" stroke-width="1.3"/>
<polyline points="356.60,311.27 375.87,310.97 395.14,310.36 433.68,309.46 510.77,308.55" fill="none" stroke="#cc44f0" stroke-width="1.3"/>
<polyline points="356.60,311.27 375.87,310.67 395.14,310.06 433.68,308.85 510.77,307.64" fill="none" stroke="#a0a0a8" stroke-width="1.3"/>
<polyline points="356.60,311.27 375.87,309.76 395.14,307.64 433.68,303.70 510.77,296.13" fill="none" stroke="#000000" stroke-width="1.3"/>
<polyline points="356.60,311.27 375.87,309.15 395.14,306.13 433.68,301.58 510.77,293.11" fill="none" stroke="#857d3c" stroke-width="1.3"/>
<polyline points="356.60,311.27 375.87,310.97 395.14,310.36 433.68,309.15 510.77,307.94" fill="none" stroke="#a01e5a" stroke-width="1.3"/>
<polyline points="356.60,311.27 375.87,310.36 395.14,308.85 433.68,306.13 510.77,302.19" fill="none" stroke="#2a7a2a" stroke-width="1.3"/>
<polyline points="356.60,311.27 375.87,311.27 395.14,311.27 433.68,311.58 510.77,311.88" fill="none" stroke="#f5dcc0" stroke-width="1.3"/>
<polyline points="356.60,311.27 375.87,310.67 395.14,309.76 433.68,307.64 510.77,305.22" fill="none" stroke="#000000" stroke-width="1.3"/>
<circle cx="356.60" cy="311.27" r="2.3" fill="#f04848"/>
<circle cx="375.87" cy="310.97" r="2.3" fill="#f04848"/>
<circle cx="395.14" cy="310.36" r="2.3" fill="#f04848"/>
<circle cx="433.68" cy="309.46" r="2.3" fill="#f04848"/>
<circle cx="510.77" cy="308.25" r="2.3" fill="#f04848"/>
<rect x="354.30" y="308.97" width="4.6" height="4.6" fill="#f08a30"/>
<rect x="373.57" y="308.67" width="4.6" height="4.6" fill="#f08a30"/>
<rect x="392.84" y="308.06" width="4.6" height="4.6" fill="#f08a30"/>
<rect x="431.38" y="307.16" width="4.6" height="4.6" fill="#f08a30"/>
<rect x="508.47" y="305.94" width="4.6" height="4.6" fill="#f08a30"/>
<path d="M356.60,308.67 L359.33,313.22 L353.87,313.22Z" fill="#f2f23a"/>
<path d="M375.87,308.37 L378.60,312.92 L373.14,312.92Z" fill="#f2f23a"/>
<path d="M395.14,307.76 L397.87,312.31 L392.41,312.31Z" fill="#f2f23a"/>
<path d="M433.68,306.86 L436.41,311.41 L430.95,311.41Z" fill="#f2f23a"/>
<path d="M510.77,305.64 L513.50,310.19 L508.04,310.19Z" fill="#f2f23a"/>
<path d="M356.60,313.87 L359.33,309.32 L353.87,309.32Z" fill="#3cf03c"/>
<path d="M375.87,313.57 L378.60,309.02 L373.14,309.02Z" fill="#3cf03c"/>
<path d="M395.14,312.96 L397.87,308.41 L392.41,308.41Z" fill="#3cf03c"/>
<path d="M433.68,312.06 L436.41,307.51 L430.95,307.51Z" fill="#3cf03c"/>
<path d="M510.77,310.85 L513.50,306.30 L508.04,306.30Z" fill="#3cf03c"/>
<path d="M356.60,308.97 L358.90,311.27 L356.60,313.57 L354.30,311.27Z" fill="#1c1cf0"/>
<path d="M375.87,308.67 L378.17,310.97 L375.87,313.27 L373.57,310.97Z" fill="#1c1cf0"/>
<path d="M395.14,308.06 L397.44,310.36 L395.14,312.66 L392.84,310.36Z" fill="#1c1cf0"/>
<path d="M433.68,307.16 L435.98,309.46 L433.68,311.76 L431.38,309.46Z" fill="#1c1cf0"/>
<path d="M510.77,305.94 L513.07,308.25 L510.77,310.55 L508.47,308.25Z" fill="#1c1cf0"/>
<circle cx="356.60" cy="311.27" r="3.1" fill="#cc44f0"/>
<circle cx="375.87" cy="310.97" r="3.1" fill="#cc44f0"/>
<circle cx="395.14" cy="310.36" r="3.1" fill="#cc44f0"/>
<circle cx="433.68" cy="309.46" r="3.1" fill="#cc44f0"/>
<circle cx="510.77" cy="308.55" r="3.1" fill="#cc44f0"/>
<rect x="353.70" y="308.37" width="5.8" height="5.8" fill="#a0a0a8"/>
<rect x="372.97" y="307.77" width="5.8" height="5.8" fill="#a0a0a8"/>
<rect x="392.24" y="307.16" width="5.8" height="5.8" fill="#a0a0a8"/>
<rect x="430.78" y="305.95" width="5.8" height="5.8" fill="#a0a0a8"/>
<rect x="507.87" y="304.74" width="5.8" height="5.8" fill="#a0a0a8"/>
<path d="M356.60,307.97 L360.06,313.75 L353.14,313.75Z" fill="#000000"/>
<path d="M375.87,306.46 L379.34,312.23 L372.41,312.23Z" fill="#000000"/>
<path d="M395.14,304.34 L398.61,310.11 L391.68,310.11Z" fill="#000000"/>
<path d="M433.68,300.40 L437.15,306.18 L430.22,306.18Z" fill="#000000"/>
<path d="M510.77,292.83 L514.23,298.61 L507.30,298.61Z" fill="#000000"/>
<path d="M356.60,314.67 L360.17,308.72 L353.03,308.72Z" fill="#857d3c"/>
<path d="M375.87,312.55 L379.44,306.60 L372.30,306.60Z" fill="#857d3c"/>
<path d="M395.14,309.53 L398.71,303.58 L391.57,303.58Z" fill="#857d3c"/>
<path d="M433.68,304.98 L437.25,299.03 L430.11,299.03Z" fill="#857d3c"/>
<path d="M510.77,296.51 L514.34,290.56 L507.20,290.56Z" fill="#857d3c"/>
<path d="M356.60,308.07 L359.80,311.27 L356.60,314.47 L353.40,311.27Z" fill="#a01e5a"/>
<path d="M375.87,307.77 L379.07,310.97 L375.87,314.17 L372.67,310.97Z" fill="#a01e5a"/>
<path d="M395.14,307.16 L398.34,310.36 L395.14,313.56 L391.94,310.36Z" fill="#a01e5a"/>
<path d="M433.68,305.95 L436.88,309.15 L433.68,312.35 L430.48,309.15Z" fill="#a01e5a"/>
<path d="M510.77,304.74 L513.97,307.94 L510.77,311.14 L507.57,307.94Z" fill="#a01e5a"/>
<path d="M354.00,311.27 H359.20 M356.60,308.67 V313.87" stroke="#2a7a2a" stroke-width="1.6" fill="none"/>
<path d="M373.27,310.36 H378.47 M375.87,307.76 V312.96" stroke="#2a7a2a" stroke-width="1.6" fill="none"/>
<path d="M392.54,308.85 H397.74 M395.14,306.25 V311.45" stroke="#2a7a2a" stroke-width="1.6" fill="none"/>
<path d="M431.08,306.13 H436.28 M433.68,303.53 V308.73" stroke="#2a7a2a" stroke-width="1.6" fill="none"/>
<path d="M508.17,302.19 H513.37 M510.77,299.59 V304.79" stroke="#2a7a2a" stroke-width="1.6" fill="none"/>
<circle cx="356.60" cy="311.27" r="3.4" fill="#f5dcc0"/>
<circle cx="375.87" cy="311.27" r="3.4" fill="#f5dcc0"/>
<circle cx="395.14" cy="311.27" r="3.4" fill="#f5dcc0"/>
<circle cx="433.68" cy="311.58" r="3.4" fill="#f5dcc0"/>
<circle cx="510.77" cy="311.88" r="3.4" fill="#f5dcc0"/>
<circle cx="356.60" cy="311.27" r="3.3" fill="#000000"/>
<circle cx="375.87" cy="310.67" r="3.3" fill="#000000"/>
<circle cx="395.14" cy="309.76" r="3.3" fill="#000000"/>
<circle cx="433.68" cy="307.64" r="3.3" fill="#000000"/>
<circle cx="510.77" cy="305.22" r="3.3" fill="#000000"/>
<text x="361.71" y="208.90" font-size="11.72" font-weight="bold" fill="#1a1a1a">Antigen:GST</text>
<text x="365.48" y="342.90" font-size="12.47" fill="#1a1a1a">Nanobody Concentration (nM)</text>
<text transform="translate(50.90,267.21) rotate(-90)" font-size="12.81" fill="#1a1a1a">OD</text>
<text transform="translate(53.30,247.80) rotate(-90)" font-size="7.6" fill="#1a1a1a">450</text>
<text transform="translate(332.40,271.81) rotate(-90)" font-size="12.81" fill="#1a1a1a">OD</text>
<text transform="translate(334.80,252.40) rotate(-90)" font-size="7.6" fill="#1a1a1a">450</text>
<path d="M550.3,215.0 H563.3" stroke="#f04848" stroke-width="1.3"/>
<circle cx="556.80" cy="215.00" r="2.3" fill="#f04848"/>
<text x="569.97" y="218.50" font-size="10.1" fill="#1a1a1a">E1</text>
<path d="M550.3,229.0 H563.3" stroke="#f08a30" stroke-width="1.3"/>
<rect x="554.50" y="226.70" width="4.6" height="4.6" fill="#f08a30"/>
<text x="569.97" y="232.50" font-size="10.1" fill="#1a1a1a">E2</text>
<path d="M550.3,243.0 H563.3" stroke="#f2f23a" stroke-width="1.3"/>
<path d="M556.80,240.40 L559.53,244.95 L554.07,244.95Z" fill="#f2f23a"/>
<text x="569.97" y="246.50" font-size="10.1" fill="#1a1a1a">E3</text>
<path d="M550.3,257.0 H563.3" stroke="#3cf03c" stroke-width="1.3"/>
<path d="M556.80,259.60 L559.53,255.05 L554.07,255.05Z" fill="#3cf03c"/>
<text x="569.97" y="260.50" font-size="10.1" fill="#1a1a1a">E4</text>
<path d="M550.3,270.8 H563.3" stroke="#1c1cf0" stroke-width="1.3"/>
<path d="M556.80,268.50 L559.10,270.80 L556.80,273.10 L554.50,270.80Z" fill="#1c1cf0"/>
<text x="569.97" y="274.30" font-size="10.1" fill="#1a1a1a">E5</text>
<path d="M550.3,284.8 H563.3" stroke="#cc44f0" stroke-width="1.3"/>
<circle cx="556.80" cy="284.80" r="3.1" fill="#cc44f0"/>
<text x="569.97" y="288.30" font-size="10.1" fill="#1a1a1a">E6</text>
<path d="M588.3,214.7 H601.6" stroke="#a0a0a8" stroke-width="1.3"/>
<rect x="592.05" y="211.80" width="5.8" height="5.8" fill="#a0a0a8"/>
<text x="608.47" y="218.20" font-size="10.1" fill="#1a1a1a">E7</text>
<path d="M588.3,228.7 H601.6" stroke="#000000" stroke-width="1.3"/>
<path d="M594.95,225.40 L598.42,231.17 L591.49,231.17Z" fill="#000000"/>
<text x="608.47" y="232.20" font-size="10.1" fill="#1a1a1a">E8</text>
<path d="M588.3,242.8 H601.6" stroke="#857d3c" stroke-width="1.3"/>
<path d="M594.95,246.20 L598.52,240.25 L591.38,240.25Z" fill="#857d3c"/>
<text x="608.47" y="246.30" font-size="10.1" fill="#1a1a1a">E9</text>
<path d="M588.3,256.9 H601.6" stroke="#a01e5a" stroke-width="1.3"/>
<path d="M594.95,253.70 L598.15,256.90 L594.95,260.10 L591.75,256.90Z" fill="#a01e5a"/>
<text x="608.47" y="260.40" font-size="10.1" fill="#1a1a1a">E10</text>
<path d="M588.3,270.7 H601.6" stroke="#2a7a2a" stroke-width="1.3"/>
<path d="M592.35,270.70 H597.55 M594.95,268.10 V273.30" stroke="#2a7a2a" stroke-width="1.6" fill="none"/>
<text x="608.47" y="274.20" font-size="10.1" fill="#1a1a1a">E11</text>
<path d="M588.3,284.9 H601.6" stroke="#f5dcc0" stroke-width="1.3"/>
<circle cx="594.95" cy="284.90" r="3.4" fill="#f5dcc0"/>
<text x="608.47" y="288.40" font-size="10.1" fill="#1a1a1a">E13</text>
<path d="M588.3,298.6 H601.6" stroke="#000000" stroke-width="1.3"/>
<circle cx="594.95" cy="298.60" r="3.3" fill="#000000"/>
<text x="608.79" y="302.10" font-size="10.1" fill="#1a1a1a">C9 (Control)</text>
<path d="M70.10,491.50 C70.37,491.46 71.16,491.35 71.69,491.24 C72.22,491.13 72.75,490.99 73.28,490.85 C73.82,490.70 74.35,490.54 74.88,490.39 C75.41,490.23 75.94,490.06 76.47,489.89 C77.00,489.73 77.53,489.55 78.06,489.38 C78.59,489.21 79.12,489.04 79.65,488.87 C80.18,488.69 80.72,488.52 81.25,488.35 C81.78,488.18 82.31,488.01 82.84,487.84 C83.37,487.67 83.90,487.50 84.43,487.33 C84.96,487.17 85.49,487.00 86.02,486.84 C86.55,486.68 87.08,486.52 87.61,486.36 C88.15,486.21 88.68,486.05 89.21,485.90 C89.74,485.75 90.27,485.60 90.80,485.45 C91.33,485.31 91.86,485.16 92.39,485.02 C92.92,484.88 93.45,484.74 93.98,484.60 C94.51,484.47 95.05,484.34 95.58,484.20 C96.11,484.07 96.64,483.95 97.17,483.82 C97.70,483.70 98.23,483.57 98.76,483.46 C99.29,483.34 99.82,483.22 100.35,483.10 C100.88,482.99 101.41,482.88 101.95,482.77 C102.48,482.66 103.01,482.55 103.54,482.45 C104.07,482.35 104.60,482.24 105.13,482.14 C105.66,482.05 106.19,481.95 106.72,481.85 C107.25,481.76 107.78,481.67 108.31,481.58 C108.85,481.49 109.38,481.40 109.91,481.31 C110.44,481.23 110.97,481.15 111.50,481.06 C112.03,480.98 112.56,480.90 113.09,480.83 C113.62,480.75 114.15,480.67 114.68,480.60 C115.21,480.53 115.75,480.46 116.28,480.39 C116.81,480.32 117.34,480.25 117.87,480.18 C118.40,480.12 118.93,480.05 119.46,479.99 C119.99,479.93 120.52,479.87 121.05,479.81 C121.58,479.75 122.11,479.69 122.64,479.63 C123.18,479.58 123.71,479.52 124.24,479.47 C124.77,479.41 125.30,479.36 125.83,479.31 C126.36,479.26 126.89,479.21 127.42,479.16 C127.95,479.12 128.48,479.07 129.01,479.02 C129.54,478.98 130.08,478.93 130.61,478.89 C131.14,478.85 131.67,478.81 132.20,478.76 C132.73,478.72 133.53,478.67 133.79,478.65 M134.27,478.55 C141.43,478.70 161.15,479.16 177.23,479.41 C193.32,479.66 221.87,479.94 230.80,480.05" stroke="#eeee2a" stroke-width="1.35" fill="none"/>
<path d="M133.79,476.85 V479.85" stroke="#eeee2a" stroke-width="0.9"/>
<path d="M70.10,491.50 C70.37,491.40 71.16,491.15 71.69,490.90 C72.22,490.66 72.75,490.35 73.28,490.04 C73.82,489.74 74.35,489.41 74.88,489.09 C75.41,488.76 75.94,488.42 76.47,488.08 C77.00,487.75 77.53,487.41 78.06,487.07 C78.59,486.73 79.12,486.39 79.65,486.06 C80.18,485.72 80.72,485.39 81.25,485.06 C81.78,484.73 82.31,484.41 82.84,484.09 C83.37,483.77 83.90,483.45 84.43,483.14 C84.96,482.84 85.49,482.53 86.02,482.23 C86.55,481.94 87.08,481.64 87.61,481.36 C88.15,481.07 88.68,480.79 89.21,480.52 C89.74,480.25 90.27,479.98 90.80,479.72 C91.33,479.45 91.86,479.20 92.39,478.95 C92.92,478.70 93.45,478.46 93.98,478.22 C94.51,477.98 95.05,477.75 95.58,477.53 C96.11,477.30 96.64,477.08 97.17,476.87 C97.70,476.65 98.23,476.44 98.76,476.24 C99.29,476.04 99.82,475.84 100.35,475.65 C100.88,475.46 101.41,475.27 101.95,475.09 C102.48,474.91 103.01,474.73 103.54,474.56 C104.07,474.39 104.60,474.22 105.13,474.06 C105.66,473.89 106.19,473.74 106.72,473.58 C107.25,473.43 107.78,473.28 108.31,473.13 C108.85,472.99 109.38,472.85 109.91,472.71 C110.44,472.57 110.97,472.44 111.50,472.31 C112.03,472.18 112.56,472.06 113.09,471.94 C113.62,471.82 114.15,471.70 114.68,471.58 C115.21,471.47 115.75,471.36 116.28,471.25 C116.81,471.14 117.34,471.04 117.87,470.94 C118.40,470.84 118.93,470.74 119.46,470.64 C119.99,470.55 120.52,470.45 121.05,470.36 C121.58,470.27 122.11,470.19 122.64,470.10 C123.18,470.02 123.71,469.93 124.24,469.85 C124.77,469.78 125.30,469.70 125.83,469.62 C126.36,469.55 126.89,469.48 127.42,469.41 C127.95,469.33 128.48,469.27 129.01,469.20 C129.54,469.13 130.08,469.07 130.61,469.01 C131.14,468.95 131.67,468.89 132.20,468.83 C132.73,468.77 133.53,468.69 133.79,468.66 M134.27,469.35 C138.67,469.85 151.15,471.58 160.63,472.35 C170.11,473.11 179.55,473.51 191.16,473.95 C202.77,474.40 223.75,474.84 230.26,475.02" stroke="#4aa8c8" stroke-width="1.35" fill="none"/>
<path d="M133.79,466.86 V469.86" stroke="#4aa8c8" stroke-width="0.9"/>
<path d="M70.10,491.50 C70.37,491.24 71.16,490.52 71.69,489.94 C72.22,489.36 72.75,488.68 73.28,488.03 C73.82,487.38 74.35,486.71 74.88,486.05 C75.41,485.39 75.94,484.73 76.47,484.08 C77.00,483.43 77.53,482.78 78.06,482.15 C78.59,481.52 79.12,480.90 79.65,480.29 C80.18,479.68 80.72,479.08 81.25,478.50 C81.78,477.92 82.31,477.35 82.84,476.79 C83.37,476.24 83.90,475.70 84.43,475.17 C84.96,474.64 85.49,474.12 86.02,473.62 C86.55,473.12 87.08,472.64 87.61,472.16 C88.15,471.69 88.68,471.23 89.21,470.78 C89.74,470.33 90.27,469.90 90.80,469.48 C91.33,469.06 91.86,468.65 92.39,468.25 C92.92,467.85 93.45,467.47 93.98,467.09 C94.51,466.72 95.05,466.36 95.58,466.01 C96.11,465.66 96.64,465.32 97.17,464.99 C97.70,464.66 98.23,464.34 98.76,464.03 C99.29,463.72 99.82,463.42 100.35,463.13 C100.88,462.84 101.41,462.55 101.95,462.28 C102.48,462.01 103.01,461.75 103.54,461.49 C104.07,461.23 104.60,460.99 105.13,460.75 C105.66,460.51 106.19,460.28 106.72,460.05 C107.25,459.83 107.78,459.61 108.31,459.40 C108.85,459.19 109.38,458.99 109.91,458.79 C110.44,458.60 110.97,458.41 111.50,458.22 C112.03,458.04 112.56,457.86 113.09,457.69 C113.62,457.52 114.15,457.35 114.68,457.19 C115.21,457.03 115.75,456.87 116.28,456.72 C116.81,456.57 117.34,456.43 117.87,456.29 C118.40,456.15 118.93,456.01 119.46,455.88 C119.99,455.75 120.52,455.62 121.05,455.50 C121.58,455.37 122.11,455.26 122.64,455.14 C123.18,455.03 123.71,454.91 124.24,454.81 C124.77,454.70 125.30,454.60 125.83,454.50 C126.36,454.40 126.89,454.30 127.42,454.21 C127.95,454.11 128.48,454.02 129.01,453.93 C129.54,453.85 130.08,453.76 130.61,453.68 C131.14,453.60 131.67,453.52 132.20,453.44 C132.73,453.37 133.53,453.26 133.79,453.22 M134.27,453.19 C136.11,453.96 140.92,456.26 145.31,457.80 C149.70,459.33 155.49,461.24 160.63,462.40 C165.77,463.56 171.07,464.11 176.16,464.75 C181.25,465.39 182.14,465.73 191.16,466.25 C200.18,466.77 223.75,467.59 230.26,467.85" stroke="#2cf02c" stroke-width="1.35" fill="none"/>
<path d="M133.79,451.42 V454.42" stroke="#2cf02c" stroke-width="0.9"/>
<path d="M70.10,491.50 C70.37,491.01 71.16,489.68 71.69,488.58 C72.22,487.49 72.75,486.18 73.28,484.95 C73.82,483.72 74.35,482.44 74.88,481.20 C75.41,479.95 75.94,478.71 76.47,477.49 C77.00,476.28 77.53,475.08 78.06,473.92 C78.59,472.76 79.12,471.62 79.65,470.51 C80.18,469.40 80.72,468.33 81.25,467.28 C81.78,466.24 82.31,465.23 82.84,464.25 C83.37,463.26 83.90,462.32 84.43,461.40 C84.96,460.48 85.49,459.60 86.02,458.74 C86.55,457.89 87.08,457.06 87.61,456.27 C88.15,455.47 88.68,454.71 89.21,453.97 C89.74,453.23 90.27,452.52 90.80,451.83 C91.33,451.15 91.86,450.49 92.39,449.85 C92.92,449.22 93.45,448.61 93.98,448.02 C94.51,447.44 95.05,446.87 95.58,446.33 C96.11,445.79 96.64,445.27 97.17,444.77 C97.70,444.27 98.23,443.79 98.76,443.33 C99.29,442.86 99.82,442.42 100.35,442.00 C100.88,441.57 101.41,441.16 101.95,440.77 C102.48,440.38 103.01,440.00 103.54,439.64 C104.07,439.28 104.60,438.93 105.13,438.60 C105.66,438.26 106.19,437.95 106.72,437.64 C107.25,437.33 107.78,437.04 108.31,436.76 C108.85,436.47 109.38,436.20 109.91,435.94 C110.44,435.69 110.97,435.44 111.50,435.20 C112.03,434.96 112.56,434.73 113.09,434.51 C113.62,434.29 114.15,434.08 114.68,433.88 C115.21,433.68 115.75,433.49 116.28,433.30 C116.81,433.12 117.34,432.94 117.87,432.77 C118.40,432.60 118.93,432.44 119.46,432.28 C119.99,432.12 120.52,431.97 121.05,431.83 C121.58,431.69 122.11,431.55 122.64,431.42 C123.18,431.28 123.71,431.16 124.24,431.04 C124.77,430.92 125.30,430.80 125.83,430.69 C126.36,430.58 126.89,430.47 127.42,430.37 C127.95,430.27 128.48,430.17 129.01,430.08 C129.54,429.98 130.08,429.89 130.61,429.81 C131.14,429.72 131.67,429.64 132.20,429.56 C132.73,429.48 133.53,429.37 133.79,429.33 M134.27,429.98 C136.11,431.29 140.92,435.41 145.31,437.89 C149.70,440.37 155.49,442.80 160.63,444.85 C165.77,446.90 171.07,448.66 176.16,450.20 C181.25,451.73 186.07,452.98 191.16,454.05 C196.25,455.12 200.18,455.73 206.70,456.62 C213.21,457.51 226.34,458.94 230.26,459.40" stroke="#8a8a2a" stroke-width="1.35" fill="none"/>
<path d="M133.79,427.53 V430.53" stroke="#8a8a2a" stroke-width="0.9"/>
<path d="M70.10,491.50 C70.37,490.48 71.16,487.55 71.69,485.37 C72.22,483.19 72.75,480.71 73.28,478.41 C73.82,476.12 74.35,473.82 74.88,471.61 C75.41,469.40 75.94,467.24 76.47,465.17 C77.00,463.10 77.53,461.10 78.06,459.17 C78.59,457.25 79.12,455.41 79.65,453.64 C80.18,451.88 80.72,450.19 81.25,448.57 C81.78,446.96 82.31,445.42 82.84,443.94 C83.37,442.47 83.90,441.07 84.43,439.73 C84.96,438.39 85.49,437.12 86.02,435.90 C86.55,434.69 87.08,433.54 87.61,432.44 C88.15,431.34 88.68,430.29 89.21,429.30 C89.74,428.30 90.27,427.36 90.80,426.46 C91.33,425.57 91.86,424.72 92.39,423.90 C92.92,423.09 93.45,422.33 93.98,421.60 C94.51,420.86 95.05,420.17 95.58,419.52 C96.11,418.86 96.64,418.23 97.17,417.64 C97.70,417.05 98.23,416.49 98.76,415.95 C99.29,415.42 99.82,414.91 100.35,414.43 C100.88,413.95 101.41,413.50 101.95,413.07 C102.48,412.63 103.01,412.23 103.54,411.84 C104.07,411.45 104.60,411.08 105.13,410.73 C105.66,410.38 106.19,410.06 106.72,409.74 C107.25,409.43 107.78,409.13 108.31,408.85 C108.85,408.57 109.38,408.30 109.91,408.05 C110.44,407.79 110.97,407.56 111.50,407.33 C112.03,407.10 112.56,406.89 113.09,406.68 C113.62,406.48 114.15,406.28 114.68,406.10 C115.21,405.92 115.75,405.74 116.28,405.58 C116.81,405.41 117.34,405.26 117.87,405.11 C118.40,404.96 118.93,404.82 119.46,404.69 C119.99,404.56 120.52,404.43 121.05,404.31 C121.58,404.19 122.11,404.08 122.64,403.98 C123.18,403.87 123.71,403.77 124.24,403.67 C124.77,403.58 125.30,403.48 125.83,403.40 C126.36,403.31 126.89,403.23 127.42,403.15 C127.95,403.08 128.48,403.00 129.01,402.93 C129.54,402.87 130.08,402.80 130.61,402.74 C131.14,402.68 131.67,402.62 132.20,402.56 C132.73,402.50 133.53,402.43 133.79,402.40 M134.27,402.37 C134.84,403.69 135.86,407.17 137.70,410.29 C139.54,413.41 142.75,418.13 145.31,421.09 C147.86,424.05 150.47,426.02 153.02,428.05 C155.57,430.08 156.77,431.13 160.63,433.29 C164.48,435.45 171.07,438.82 176.16,441.00 C181.25,443.17 186.07,444.81 191.16,446.35 C196.25,447.88 200.18,449.06 206.70,450.20 C213.21,451.34 226.34,452.69 230.26,453.19" stroke="#f02424" stroke-width="1.35" fill="none"/>
<path d="M133.79,400.60 V403.60" stroke="#f02424" stroke-width="0.9"/>
<path d="M70.10,491.50 C70.99,491.22 73.67,490.34 75.46,489.80 C77.24,489.25 79.03,488.73 80.81,488.23 C82.60,487.72 84.38,487.23 86.17,486.76 C87.96,486.29 89.74,485.84 91.53,485.40 C93.31,484.96 95.10,484.54 96.88,484.14 C98.67,483.73 100.45,483.35 102.24,482.97 C104.03,482.60 105.81,482.23 107.60,481.88 C109.38,481.53 111.17,481.20 112.95,480.87 C114.74,480.55 116.52,480.24 118.31,479.94 C120.10,479.64 121.88,479.36 123.67,479.08 C125.45,478.80 127.24,478.53 129.02,478.27 C130.81,478.02 133.49,477.65 134.38,477.53 L134.38,477.59 C134.47,477.80 127.77,478.27 134.92,478.87 C142.06,479.48 165.72,480.64 177.23,481.23 C188.75,481.82 195.09,481.83 204.02,482.40 C212.94,482.98 226.34,484.28 230.80,484.65" stroke="#1a1a1a" stroke-width="1.1" stroke-dasharray="3 2" fill="none"/>
<path d="M70.10,491.50 C70.99,490.98 73.67,489.37 75.46,488.36 C77.24,487.36 79.03,486.40 80.81,485.48 C82.60,484.55 84.38,483.68 86.17,482.83 C87.96,481.99 89.74,481.17 91.53,480.39 C93.31,479.62 95.10,478.88 96.88,478.17 C98.67,477.45 100.45,476.77 102.24,476.11 C104.03,475.46 105.81,474.83 107.60,474.23 C109.38,473.63 111.17,473.05 112.95,472.50 C114.74,471.94 116.52,471.41 118.31,470.90 C120.10,470.39 121.88,469.91 123.67,469.45 C125.45,468.98 127.24,468.53 129.02,468.10 C130.81,467.67 133.49,467.07 134.38,466.87 L134.38,466.36 C134.47,466.71 130.54,467.23 134.92,468.50 C139.29,469.76 151.25,472.40 160.63,473.95 C170.00,475.50 179.55,476.91 191.16,477.80 C202.77,478.70 223.75,479.05 230.26,479.30" stroke="#1a1a1a" stroke-width="1.1" stroke-dasharray="3 2" fill="none"/>
<path d="M70.10,491.50 C70.99,490.52 73.67,487.49 75.46,485.64 C77.24,483.78 79.03,482.02 80.81,480.35 C82.60,478.68 84.38,477.10 86.17,475.60 C87.96,474.09 89.74,472.68 91.53,471.32 C93.31,469.96 95.10,468.69 96.88,467.47 C98.67,466.25 100.45,465.09 102.24,463.99 C104.03,462.89 105.81,461.86 107.60,460.87 C109.38,459.88 111.17,458.94 112.95,458.05 C114.74,457.16 116.52,456.33 118.31,455.53 C120.10,454.73 121.88,453.97 123.67,453.25 C125.45,452.53 127.24,451.84 129.02,451.19 C130.81,450.54 133.49,449.65 134.38,449.34 L134.38,449.66 C134.47,450.04 133.09,450.93 134.92,451.91 C136.74,452.89 141.02,454.05 145.31,455.55 C149.59,457.05 152.99,459.04 160.63,460.90 C168.27,462.75 179.55,465.02 191.16,466.68 C202.77,468.33 223.75,470.15 230.26,470.85" stroke="#1a1a1a" stroke-width="1.1" stroke-dasharray="3 2" fill="none"/>
<path d="M70.10,491.50 C70.99,489.66 73.67,483.89 75.46,480.47 C77.24,477.05 79.03,473.92 80.81,470.98 C82.60,468.03 84.38,465.34 86.17,462.80 C87.96,460.27 89.74,457.95 91.53,455.77 C93.31,453.59 95.10,451.60 96.88,449.73 C98.67,447.85 100.45,446.13 102.24,444.52 C104.03,442.90 105.81,441.42 107.60,440.03 C109.38,438.64 111.17,437.37 112.95,436.17 C114.74,434.97 116.52,433.87 118.31,432.84 C120.10,431.81 121.88,430.87 123.67,429.99 C125.45,429.10 127.24,428.29 129.02,427.52 C130.81,426.76 133.49,425.76 134.38,425.41 L134.38,425.69 C134.47,426.32 133.09,427.91 134.92,429.44 C136.74,430.97 141.02,432.70 145.31,434.90 C149.59,437.09 155.49,440.41 160.63,442.60 C165.77,444.79 171.07,446.38 176.16,448.06 C181.25,449.73 182.14,450.52 191.16,452.66 C200.18,454.80 223.75,459.52 230.26,460.90" stroke="#1a1a1a" stroke-width="1.1" stroke-dasharray="3 2" fill="none"/>
<path d="M70.10,491.50 C70.99,487.18 73.67,472.95 75.46,465.58 C77.24,458.22 79.03,452.52 80.81,447.33 C82.60,442.14 84.38,438.11 86.17,434.46 C87.96,430.80 89.74,427.97 91.53,425.40 C93.31,422.82 95.10,420.82 96.88,419.01 C98.67,417.19 100.45,415.78 102.24,414.50 C104.03,413.22 105.81,412.24 107.60,411.34 C109.38,410.44 111.17,409.74 112.95,409.10 C114.74,408.46 116.52,407.96 118.31,407.52 C120.10,407.07 121.88,406.73 123.67,406.41 C125.45,406.10 127.24,405.84 129.02,405.62 C130.81,405.40 133.49,405.17 134.38,405.08 L134.38,404.30 C134.47,405.54 133.09,408.74 134.92,411.78 C136.74,414.83 141.02,419.11 145.31,422.59 C149.59,426.07 155.49,429.83 160.63,432.65 C165.77,435.47 171.07,437.46 176.16,439.50 C181.25,441.53 186.07,443.19 191.16,444.85 C196.25,446.51 200.18,447.74 206.70,449.45 C213.21,451.16 226.34,454.17 230.26,455.12" stroke="#1a1a1a" stroke-width="1.1" stroke-dasharray="3 2" fill="none"/>
<path d="M70.1,384.5 H230.8 V491.5" stroke="#1a1a1a" stroke-width="1.2" fill="none"/>
<path d="M70.1,383.9 V491.5 H231.4" stroke="#262626" stroke-width="1.7" fill="none"/>
<path d="M66.5,491.50 H70.1" stroke="#262626" stroke-width="1.3"/>
<text x="64.50" y="495.30" font-size="7.90" font-weight="bold" text-anchor="end" fill="#1a1a1a">0</text>
<path d="M66.5,438.00 H70.1" stroke="#262626" stroke-width="1.3"/>
<text x="64.50" y="441.80" font-size="7.90" font-weight="bold" text-anchor="end" fill="#1a1a1a">50</text>
<path d="M66.5,384.50 H70.1" stroke="#262626" stroke-width="1.3"/>
<text x="64.50" y="388.30" font-size="7.90" font-weight="bold" text-anchor="end" fill="#1a1a1a">100</text>
<path d="M70.10,491.5 V495.1" stroke="#262626" stroke-width="1.3"/>
<text x="70.10" y="505.10" font-size="8.20" font-weight="bold" text-anchor="middle" fill="#1a1a1a">0</text>
<path d="M123.67,491.5 V495.1" stroke="#262626" stroke-width="1.3"/>
<text x="123.67" y="505.10" font-size="8.20" font-weight="bold" text-anchor="middle" fill="#1a1a1a">100</text>
<path d="M177.23,491.5 V495.1" stroke="#262626" stroke-width="1.3"/>
<text x="177.23" y="505.10" font-size="8.20" font-weight="bold" text-anchor="middle" fill="#1a1a1a">200</text>
<path d="M230.80,491.5 V495.1" stroke="#262626" stroke-width="1.3"/>
<text x="230.80" y="505.10" font-size="8.20" font-weight="bold" text-anchor="middle" fill="#1a1a1a">300</text>
<text x="133.16" y="376.90" font-size="12.67" fill="#1a1a1a">E3</text>
<text x="72.90" y="395.30" font-size="9" font-weight="bold" fill="#1a1a1a">K<tspan font-size="6.4" dy="2">D</tspan><tspan dy="-2">: 8.6nM</tspan></text>
<path d="M181.7,392.4 H193.2" stroke="#eeee2a" stroke-width="1.3"/>
<text x="199.42" y="394.95" font-size="7.4" fill="#1a1a1a">3.9nM</text>
<path d="M181.7,402.9 H193.2" stroke="#4aa8c8" stroke-width="1.3"/>
<text x="199.32" y="405.45" font-size="7.4" fill="#1a1a1a">7.8nM</text>
<path d="M181.7,413.1 H193.2" stroke="#2cf02c" stroke-width="1.3"/>
<text x="199.14" y="415.65" font-size="7.4" fill="#1a1a1a">15.6nM</text>
<path d="M181.7,423.6 H193.2" stroke="#8a8a2a" stroke-width="1.3"/>
<text x="199.42" y="426.15" font-size="7.4" fill="#1a1a1a">31.25nM</text>
<path d="M181.7,434.1 H193.2" stroke="#f02424" stroke-width="1.3"/>
<text x="199.32" y="436.65" font-size="7.4" fill="#1a1a1a">62.5nM</text>
<text x="127.72" y="520.20" font-size="12.37" fill="#1a1a1a">Time (s)</text>
<text transform="translate(43.20,496.12) rotate(-90)" font-size="12.47" fill="#1a1a1a">Response Units (RU)</text>
<path d="M291.30,492.50 C291.57,492.45 292.38,492.34 292.91,492.23 C293.45,492.11 293.99,491.96 294.53,491.81 C295.06,491.67 295.60,491.51 296.14,491.34 C296.68,491.18 297.21,491.02 297.75,490.85 C298.29,490.68 298.83,490.51 299.36,490.34 C299.90,490.17 300.44,490.00 300.98,489.83 C301.51,489.66 302.05,489.49 302.59,489.33 C303.13,489.16 303.66,489.00 304.20,488.83 C304.74,488.67 305.28,488.51 305.81,488.36 C306.35,488.20 306.89,488.04 307.43,487.89 C307.96,487.74 308.50,487.59 309.04,487.45 C309.58,487.30 310.11,487.16 310.65,487.02 C311.19,486.88 311.73,486.74 312.26,486.61 C312.80,486.47 313.34,486.34 313.88,486.22 C314.41,486.09 314.95,485.97 315.49,485.84 C316.03,485.72 316.56,485.60 317.10,485.49 C317.64,485.37 318.18,485.26 318.71,485.15 C319.25,485.04 319.79,484.94 320.33,484.83 C320.86,484.73 321.40,484.63 321.94,484.53 C322.48,484.43 323.01,484.34 323.55,484.25 C324.09,484.15 324.63,484.06 325.16,483.98 C325.70,483.89 326.24,483.80 326.78,483.72 C327.31,483.64 327.85,483.56 328.39,483.48 C328.93,483.40 329.46,483.33 330.00,483.25 C330.54,483.18 331.08,483.11 331.61,483.04 C332.15,482.97 332.69,482.90 333.23,482.84 C333.76,482.77 334.30,482.71 334.84,482.65 C335.38,482.58 335.91,482.52 336.45,482.47 C336.99,482.41 337.53,482.35 338.07,482.30 C338.60,482.24 339.14,482.19 339.68,482.14 C340.22,482.09 340.75,482.04 341.29,481.99 C341.83,481.94 342.37,481.90 342.90,481.85 C343.44,481.81 343.98,481.76 344.52,481.72 C345.05,481.68 345.59,481.64 346.13,481.60 C346.67,481.56 347.20,481.52 347.74,481.48 C348.28,481.44 348.82,481.41 349.35,481.37 C349.89,481.33 350.43,481.30 350.97,481.27 C351.50,481.23 352.04,481.20 352.58,481.17 C353.12,481.14 353.65,481.11 354.19,481.08 C354.73,481.05 355.53,481.01 355.80,481.00 M356.62,480.81 C363.88,481.01 383.84,481.63 400.17,482.00 C416.50,482.38 445.53,482.91 454.60,483.09" stroke="#eeee2a" stroke-width="1.35" fill="none"/>
<path d="M355.80,479.20 V482.20" stroke="#eeee2a" stroke-width="0.9"/>
<path d="M291.30,492.50 C291.57,492.36 292.38,491.98 292.91,491.69 C293.45,491.39 293.99,491.06 294.53,490.74 C295.06,490.42 295.60,490.09 296.14,489.77 C296.68,489.44 297.21,489.12 297.75,488.80 C298.29,488.48 298.83,488.17 299.36,487.86 C299.90,487.55 300.44,487.24 300.98,486.94 C301.51,486.64 302.05,486.34 302.59,486.06 C303.13,485.77 303.66,485.48 304.20,485.21 C304.74,484.93 305.28,484.66 305.81,484.39 C306.35,484.13 306.89,483.87 307.43,483.61 C307.96,483.36 308.50,483.11 309.04,482.87 C309.58,482.63 310.11,482.40 310.65,482.17 C311.19,481.94 311.73,481.71 312.26,481.49 C312.80,481.27 313.34,481.06 313.88,480.85 C314.41,480.64 314.95,480.44 315.49,480.25 C316.03,480.05 316.56,479.86 317.10,479.67 C317.64,479.48 318.18,479.30 318.71,479.12 C319.25,478.94 319.79,478.77 320.33,478.60 C320.86,478.44 321.40,478.27 321.94,478.11 C322.48,477.95 323.01,477.80 323.55,477.65 C324.09,477.50 324.63,477.35 325.16,477.21 C325.70,477.06 326.24,476.93 326.78,476.79 C327.31,476.66 327.85,476.52 328.39,476.40 C328.93,476.27 329.46,476.15 330.00,476.02 C330.54,475.90 331.08,475.79 331.61,475.67 C332.15,475.56 332.69,475.45 333.23,475.34 C333.76,475.23 334.30,475.13 334.84,475.02 C335.38,474.92 335.91,474.82 336.45,474.73 C336.99,474.63 337.53,474.54 338.07,474.45 C338.60,474.35 339.14,474.27 339.68,474.18 C340.22,474.09 340.75,474.01 341.29,473.93 C341.83,473.85 342.37,473.77 342.90,473.69 C343.44,473.62 343.98,473.54 344.52,473.47 C345.05,473.40 345.59,473.33 346.13,473.26 C346.67,473.19 347.20,473.12 347.74,473.06 C348.28,473.00 348.82,472.93 349.35,472.87 C349.89,472.81 350.43,472.75 350.97,472.69 C351.50,472.64 352.04,472.58 352.58,472.53 C353.12,472.47 353.65,472.42 354.19,472.37 C354.73,472.32 355.53,472.25 355.80,472.22 M356.62,472.37 C360.97,472.75 373.31,474.02 382.75,474.65 C392.18,475.28 401.35,475.73 413.23,476.16 C425.12,476.59 447.25,477.06 454.06,477.24" stroke="#4aa8c8" stroke-width="1.35" fill="none"/>
<path d="M355.80,470.42 V473.42" stroke="#4aa8c8" stroke-width="0.9"/>
<path d="M291.30,492.50 C291.57,492.29 292.38,491.72 292.91,491.22 C293.45,490.72 293.99,490.08 294.53,489.48 C295.06,488.87 295.60,488.23 296.14,487.60 C296.68,486.97 297.21,486.33 297.75,485.70 C298.29,485.07 298.83,484.43 299.36,483.81 C299.90,483.20 300.44,482.58 300.98,481.98 C301.51,481.38 302.05,480.79 302.59,480.22 C303.13,479.65 303.66,479.08 304.20,478.53 C304.74,477.99 305.28,477.45 305.81,476.93 C306.35,476.41 306.89,475.91 307.43,475.42 C307.96,474.93 308.50,474.45 309.04,473.99 C309.58,473.53 310.11,473.08 310.65,472.64 C311.19,472.21 311.73,471.79 312.26,471.38 C312.80,470.98 313.34,470.58 313.88,470.20 C314.41,469.82 314.95,469.45 315.49,469.10 C316.03,468.74 316.56,468.40 317.10,468.06 C317.64,467.73 318.18,467.41 318.71,467.10 C319.25,466.79 319.79,466.49 320.33,466.20 C320.86,465.91 321.40,465.63 321.94,465.36 C322.48,465.10 323.01,464.84 323.55,464.59 C324.09,464.34 324.63,464.10 325.16,463.86 C325.70,463.63 326.24,463.41 326.78,463.19 C327.31,462.97 327.85,462.77 328.39,462.57 C328.93,462.36 329.46,462.17 330.00,461.99 C330.54,461.80 331.08,461.62 331.61,461.45 C332.15,461.27 332.69,461.11 333.23,460.95 C333.76,460.79 334.30,460.63 334.84,460.49 C335.38,460.34 335.91,460.19 336.45,460.06 C336.99,459.92 337.53,459.79 338.07,459.66 C338.60,459.53 339.14,459.41 339.68,459.29 C340.22,459.17 340.75,459.06 341.29,458.95 C341.83,458.84 342.37,458.73 342.90,458.63 C343.44,458.53 343.98,458.43 344.52,458.34 C345.05,458.25 345.59,458.16 346.13,458.07 C346.67,457.98 347.20,457.90 347.74,457.82 C348.28,457.74 348.82,457.66 349.35,457.59 C349.89,457.51 350.43,457.44 350.97,457.37 C351.50,457.30 352.04,457.24 352.58,457.17 C353.12,457.11 353.65,457.05 354.19,456.99 C354.73,456.93 355.53,456.85 355.80,456.82 M356.62,457.12 C358.41,457.62 362.99,459.01 367.34,460.15 C371.70,461.28 377.64,462.85 382.75,463.94 C387.86,465.02 392.91,465.94 397.99,466.64 C403.07,467.34 403.89,467.58 413.23,468.16 C422.58,468.73 447.25,469.78 454.06,470.10" stroke="#2cf02c" stroke-width="1.35" fill="none"/>
<path d="M355.80,455.02 V458.02" stroke="#2cf02c" stroke-width="0.9"/>
<path d="M291.30,492.50 C291.57,492.01 292.38,490.65 292.91,489.58 C293.45,488.50 293.99,487.24 294.53,486.06 C295.06,484.88 295.60,483.66 296.14,482.48 C296.68,481.30 297.21,480.13 297.75,478.99 C298.29,477.84 298.83,476.72 299.36,475.63 C299.90,474.54 300.44,473.48 300.98,472.44 C301.51,471.41 302.05,470.41 302.59,469.44 C303.13,468.47 303.66,467.54 304.20,466.63 C304.74,465.72 305.28,464.85 305.81,464.00 C306.35,463.16 306.89,462.34 307.43,461.55 C307.96,460.77 308.50,460.01 309.04,459.28 C309.58,458.55 310.11,457.85 310.65,457.17 C311.19,456.49 311.73,455.84 312.26,455.21 C312.80,454.59 313.34,453.98 313.88,453.41 C314.41,452.83 314.95,452.27 315.49,451.73 C316.03,451.20 316.56,450.69 317.10,450.19 C317.64,449.70 318.18,449.22 318.71,448.77 C319.25,448.31 319.79,447.88 320.33,447.46 C320.86,447.04 321.40,446.64 321.94,446.25 C322.48,445.86 323.01,445.49 323.55,445.13 C324.09,444.78 324.63,444.44 325.16,444.11 C325.70,443.78 326.24,443.47 326.78,443.17 C327.31,442.87 327.85,442.58 328.39,442.30 C328.93,442.02 329.46,441.76 330.00,441.50 C330.54,441.25 331.08,441.00 331.61,440.77 C332.15,440.54 332.69,440.31 333.23,440.10 C333.76,439.88 334.30,439.68 334.84,439.48 C335.38,439.28 335.91,439.09 336.45,438.91 C336.99,438.73 337.53,438.55 338.07,438.39 C338.60,438.22 339.14,438.06 339.68,437.91 C340.22,437.75 340.75,437.61 341.29,437.47 C341.83,437.33 342.37,437.19 342.90,437.06 C343.44,436.93 343.98,436.81 344.52,436.69 C345.05,436.57 345.59,436.46 346.13,436.35 C346.67,436.24 347.20,436.14 347.74,436.04 C348.28,435.94 348.82,435.84 349.35,435.75 C349.89,435.66 350.43,435.57 350.97,435.49 C351.50,435.41 352.04,435.33 352.58,435.25 C353.12,435.17 353.65,435.10 354.19,435.03 C354.73,434.96 355.53,434.86 355.80,434.82 M356.62,435.59 C358.41,436.61 362.99,439.70 367.34,441.75 C371.70,443.81 377.64,446.14 382.75,447.92 C387.86,449.71 392.91,451.11 397.99,452.47 C403.07,453.82 408.15,455.01 413.23,456.04 C418.31,457.06 421.67,457.62 428.47,458.63 C435.28,459.64 449.79,461.52 454.06,462.10" stroke="#8a8a2a" stroke-width="1.35" fill="none"/>
<path d="M355.80,433.02 V436.02" stroke="#8a8a2a" stroke-width="0.9"/>
<path d="M291.30,492.50 C291.57,491.36 292.38,487.96 292.91,485.67 C293.45,483.37 293.99,480.97 294.53,478.72 C295.06,476.48 295.60,474.29 296.14,472.19 C296.68,470.10 297.21,468.09 297.75,466.16 C298.29,464.23 298.83,462.39 299.36,460.63 C299.90,458.87 300.44,457.19 300.98,455.58 C301.51,453.98 302.05,452.45 302.59,450.99 C303.13,449.53 303.66,448.15 304.20,446.83 C304.74,445.50 305.28,444.25 305.81,443.05 C306.35,441.85 306.89,440.71 307.43,439.63 C307.96,438.54 308.50,437.52 309.04,436.54 C309.58,435.56 310.11,434.63 310.65,433.74 C311.19,432.86 311.73,432.02 312.26,431.22 C312.80,430.42 313.34,429.67 313.88,428.94 C314.41,428.22 314.95,427.54 315.49,426.89 C316.03,426.24 316.56,425.62 317.10,425.04 C317.64,424.45 318.18,423.89 318.71,423.37 C319.25,422.84 319.79,422.34 320.33,421.86 C320.86,421.38 321.40,420.93 321.94,420.50 C322.48,420.07 323.01,419.67 323.55,419.28 C324.09,418.89 324.63,418.53 325.16,418.18 C325.70,417.83 326.24,417.50 326.78,417.19 C327.31,416.87 327.85,416.58 328.39,416.29 C328.93,416.01 329.46,415.74 330.00,415.49 C330.54,415.23 331.08,414.99 331.61,414.76 C332.15,414.53 332.69,414.32 333.23,414.11 C333.76,413.90 334.30,413.71 334.84,413.52 C335.38,413.34 335.91,413.16 336.45,413.00 C336.99,412.83 337.53,412.67 338.07,412.52 C338.60,412.37 339.14,412.23 339.68,412.09 C340.22,411.96 340.75,411.83 341.29,411.71 C341.83,411.58 342.37,411.47 342.90,411.36 C343.44,411.25 343.98,411.15 344.52,411.05 C345.05,410.95 345.59,410.86 346.13,410.77 C346.67,410.68 347.20,410.59 347.74,410.51 C348.28,410.43 348.82,410.36 349.35,410.29 C349.89,410.21 350.43,410.15 350.97,410.08 C351.50,410.02 352.04,409.96 352.58,409.90 C353.12,409.84 353.65,409.78 354.19,409.73 C354.73,409.68 355.53,409.61 355.80,409.58 M356.62,410.27 C357.38,411.55 359.41,415.52 361.19,417.95 C362.98,420.38 365.04,422.57 367.34,424.88 C369.65,427.18 372.45,429.74 375.02,431.80 C377.59,433.86 378.92,435.03 382.75,437.21 C386.58,439.39 392.91,442.85 397.99,444.89 C403.07,446.93 408.15,448.17 413.23,449.44 C418.31,450.70 421.67,451.37 428.47,452.47 C435.28,453.57 449.79,455.44 454.06,456.04" stroke="#f02424" stroke-width="1.35" fill="none"/>
<path d="M355.80,407.78 V410.78" stroke="#f02424" stroke-width="0.9"/>
<path d="M291.30,492.50 C292.21,492.24 294.93,491.43 296.74,490.93 C298.56,490.43 300.37,489.95 302.19,489.48 C304.00,489.02 305.82,488.57 307.63,488.14 C309.44,487.71 311.26,487.30 313.07,486.90 C314.89,486.49 316.70,486.11 318.52,485.74 C320.33,485.36 322.15,485.00 323.96,484.66 C325.77,484.31 327.59,483.98 329.40,483.66 C331.22,483.34 333.03,483.04 334.85,482.74 C336.66,482.44 338.48,482.15 340.29,481.87 C342.10,481.60 343.92,481.34 345.73,481.08 C347.55,480.83 349.36,480.58 351.18,480.34 C352.99,480.10 355.71,479.77 356.62,479.66 L356.62,479.95 C356.71,480.15 349.91,480.53 357.16,481.14 C364.42,481.75 388.46,483.03 400.17,483.63 C411.87,484.22 418.31,484.28 427.38,484.71 C436.46,485.14 450.06,485.97 454.60,486.22" stroke="#1a1a1a" stroke-width="1.1" stroke-dasharray="3 2" fill="none"/>
<path d="M291.30,492.50 C292.21,492.03 294.93,490.58 296.74,489.68 C298.56,488.77 300.37,487.92 302.19,487.09 C304.00,486.26 305.82,485.47 307.63,484.71 C309.44,483.95 311.26,483.22 313.07,482.52 C314.89,481.82 316.70,481.15 318.52,480.51 C320.33,479.87 322.15,479.26 323.96,478.67 C325.77,478.08 327.59,477.52 329.40,476.97 C331.22,476.43 333.03,475.91 334.85,475.42 C336.66,474.92 338.48,474.44 340.29,473.99 C342.10,473.53 343.92,473.10 345.73,472.68 C347.55,472.26 349.36,471.85 351.18,471.47 C352.99,471.08 355.71,470.55 356.62,470.36 L356.62,470.21 C356.71,470.36 352.81,470.26 357.16,471.08 C361.52,471.89 373.40,473.78 382.75,475.08 C392.09,476.38 401.35,477.91 413.23,478.87 C425.12,479.82 447.25,480.49 454.06,480.81" stroke="#1a1a1a" stroke-width="1.1" stroke-dasharray="3 2" fill="none"/>
<path d="M291.30,492.50 C292.21,491.60 294.93,488.82 296.74,487.11 C298.56,485.40 300.37,483.79 302.19,482.25 C304.00,480.72 305.82,479.27 307.63,477.88 C309.44,476.50 311.26,475.19 313.07,473.94 C314.89,472.70 316.70,471.53 318.52,470.41 C320.33,469.28 322.15,468.22 323.96,467.21 C325.77,466.20 327.59,465.26 329.40,464.35 C331.22,463.44 333.03,462.58 334.85,461.76 C336.66,460.94 338.48,460.16 340.29,459.42 C342.10,458.69 343.92,458.00 345.73,457.34 C347.55,456.67 349.36,456.04 351.18,455.44 C352.99,454.84 355.71,454.03 356.62,453.74 L356.62,453.01 C356.71,453.37 355.38,454.25 357.16,455.17 C358.95,456.09 363.08,457.06 367.34,458.53 C371.61,459.99 375.10,462.01 382.75,463.94 C390.40,465.86 401.35,468.55 413.23,470.10 C425.12,471.65 447.25,472.72 454.06,473.24" stroke="#1a1a1a" stroke-width="1.1" stroke-dasharray="3 2" fill="none"/>
<path d="M291.30,492.50 C292.21,490.69 294.93,484.98 296.74,481.64 C298.56,478.29 300.37,475.27 302.19,472.43 C304.00,469.59 305.82,467.02 307.63,464.62 C309.44,462.21 311.26,460.03 313.07,458.00 C314.89,455.96 316.70,454.11 318.52,452.38 C320.33,450.65 322.15,449.08 323.96,447.62 C325.77,446.15 327.59,444.83 329.40,443.58 C331.22,442.34 333.03,441.22 334.85,440.16 C336.66,439.11 338.48,438.16 340.29,437.26 C342.10,436.37 343.92,435.57 345.73,434.81 C347.55,434.05 349.36,433.36 351.18,432.72 C352.99,432.08 355.71,431.24 356.62,430.95 L356.62,431.80 C356.71,432.36 355.38,433.86 357.16,435.15 C358.95,436.45 363.08,437.71 367.34,439.59 C371.61,441.47 377.64,444.33 382.75,446.41 C387.86,448.48 392.91,450.50 397.99,452.03 C403.07,453.57 403.89,453.75 413.23,455.60 C422.58,457.46 447.25,461.92 454.06,463.18" stroke="#1a1a1a" stroke-width="1.1" stroke-dasharray="3 2" fill="none"/>
<path d="M291.30,492.50 C292.21,488.62 294.93,475.90 296.74,469.24 C298.56,462.57 300.37,457.30 302.19,452.51 C304.00,447.72 305.82,443.93 307.63,440.49 C309.44,437.04 311.26,434.32 313.07,431.84 C314.89,429.37 316.70,427.40 318.52,425.62 C320.33,423.84 322.15,422.43 323.96,421.15 C325.77,419.87 327.59,418.86 329.40,417.94 C331.22,417.02 333.03,416.30 334.85,415.63 C336.66,414.97 338.48,414.44 340.29,413.97 C342.10,413.49 343.92,413.12 345.73,412.78 C347.55,412.44 349.36,412.17 351.18,411.92 C352.99,411.68 355.71,411.41 356.62,411.31 L356.62,411.03 C356.71,412.43 355.38,416.89 357.16,419.47 C358.95,422.04 363.08,423.63 367.34,426.50 C371.61,429.37 377.64,433.78 382.75,436.67 C387.86,439.55 392.91,441.75 397.99,443.81 C403.07,445.87 408.15,447.56 413.23,449.00 C418.31,450.45 421.67,450.99 428.47,452.47 C435.28,453.94 449.79,456.97 454.06,457.88" stroke="#1a1a1a" stroke-width="1.1" stroke-dasharray="3 2" fill="none"/>
<path d="M291.3,384.3 H454.6 V492.5" stroke="#1a1a1a" stroke-width="1.2" fill="none"/>
<path d="M291.3,383.7 V492.5 H455.20000000000005" stroke="#262626" stroke-width="1.7" fill="none"/>
<path d="M287.7,492.50 H291.3" stroke="#262626" stroke-width="1.3"/>
<text x="285.70" y="496.30" font-size="7.90" font-weight="bold" text-anchor="end" fill="#1a1a1a">0</text>
<path d="M287.7,438.40 H291.3" stroke="#262626" stroke-width="1.3"/>
<text x="285.70" y="442.20" font-size="7.90" font-weight="bold" text-anchor="end" fill="#1a1a1a">50</text>
<path d="M287.7,384.30 H291.3" stroke="#262626" stroke-width="1.3"/>
<text x="285.70" y="388.10" font-size="7.90" font-weight="bold" text-anchor="end" fill="#1a1a1a">100</text>
<path d="M291.30,492.5 V496.1" stroke="#262626" stroke-width="1.3"/>
<text x="291.30" y="506.10" font-size="8.20" font-weight="bold" text-anchor="middle" fill="#1a1a1a">0</text>
<path d="M345.73,492.5 V496.1" stroke="#262626" stroke-width="1.3"/>
<text x="345.73" y="506.10" font-size="8.20" font-weight="bold" text-anchor="middle" fill="#1a1a1a">100</text>
<path d="M400.17,492.5 V496.1" stroke="#262626" stroke-width="1.3"/>
<text x="400.17" y="506.10" font-size="8.20" font-weight="bold" text-anchor="middle" fill="#1a1a1a">200</text>
<path d="M454.60,492.5 V496.1" stroke="#262626" stroke-width="1.3"/>
<text x="454.60" y="506.10" font-size="8.20" font-weight="bold" text-anchor="middle" fill="#1a1a1a">300</text>
<text x="364.50" y="374.90" font-size="12.14" fill="#1a1a1a">E4</text>
<text x="294.50" y="395.10" font-size="9" font-weight="bold" fill="#1a1a1a">K<tspan font-size="6.4" dy="2">D</tspan><tspan dy="-2">: 8.2nM</tspan></text>
<path d="M405.2,392.3 H416.6" stroke="#eeee2a" stroke-width="1.3"/>
<text x="422.92" y="394.85" font-size="7.4" fill="#1a1a1a">3.9nM</text>
<path d="M405.2,402.8 H416.6" stroke="#4aa8c8" stroke-width="1.3"/>
<text x="422.82" y="405.35" font-size="7.4" fill="#1a1a1a">7.8nM</text>
<path d="M405.2,413.2 H416.6" stroke="#2cf02c" stroke-width="1.3"/>
<text x="422.64" y="415.75" font-size="7.4" fill="#1a1a1a">15.6nM</text>
<path d="M405.2,423.9 H416.6" stroke="#8a8a2a" stroke-width="1.3"/>
<text x="422.92" y="426.45" font-size="7.4" fill="#1a1a1a">31.25nM</text>
<path d="M405.2,434.7 H416.6" stroke="#f02424" stroke-width="1.3"/>
<text x="422.82" y="437.25" font-size="7.4" fill="#1a1a1a">62.5nM</text>
<text x="353.52" y="519.50" font-size="12.34" fill="#1a1a1a">Time (s)</text>
<text transform="translate(263.40,498.32) rotate(-90)" font-size="12.47" fill="#1a1a1a">Response Units (RU)</text>
<path d="M514.20,493.10 C514.47,493.06 515.29,492.97 515.84,492.86 C516.38,492.74 516.93,492.57 517.48,492.40 C518.02,492.24 518.57,492.04 519.11,491.85 C519.66,491.65 520.21,491.44 520.75,491.23 C521.30,491.02 521.84,490.79 522.39,490.57 C522.94,490.35 523.48,490.13 524.03,489.91 C524.57,489.68 525.12,489.46 525.67,489.24 C526.21,489.02 526.76,488.79 527.31,488.58 C527.85,488.36 528.40,488.14 528.94,487.93 C529.49,487.72 530.04,487.51 530.58,487.30 C531.13,487.09 531.67,486.89 532.22,486.69 C532.77,486.50 533.31,486.30 533.86,486.11 C534.40,485.92 534.95,485.74 535.50,485.56 C536.04,485.38 536.59,485.20 537.13,485.03 C537.68,484.86 538.23,484.69 538.77,484.53 C539.32,484.37 539.86,484.21 540.41,484.05 C540.96,483.90 541.50,483.75 542.05,483.61 C542.59,483.46 543.14,483.32 543.69,483.18 C544.23,483.05 544.78,482.91 545.32,482.79 C545.87,482.66 546.42,482.53 546.96,482.41 C547.51,482.29 548.06,482.18 548.60,482.06 C549.15,481.95 549.69,481.84 550.24,481.73 C550.79,481.63 551.33,481.53 551.88,481.43 C552.42,481.33 552.97,481.23 553.52,481.14 C554.06,481.05 554.61,480.96 555.15,480.87 C555.70,480.78 556.25,480.70 556.79,480.62 C557.34,480.54 557.88,480.46 558.43,480.38 C558.98,480.31 559.52,480.24 560.07,480.17 C560.61,480.10 561.16,480.03 561.71,479.96 C562.25,479.90 562.80,479.83 563.34,479.77 C563.89,479.71 564.44,479.65 564.98,479.59 C565.53,479.54 566.07,479.48 566.62,479.43 C567.17,479.38 567.71,479.33 568.26,479.28 C568.81,479.23 569.35,479.18 569.90,479.13 C570.44,479.09 570.99,479.04 571.54,479.00 C572.08,478.96 572.63,478.92 573.17,478.88 C573.72,478.84 574.27,478.80 574.81,478.76 C575.36,478.73 575.90,478.69 576.45,478.66 C577.00,478.62 577.54,478.59 578.09,478.56 C578.63,478.53 579.45,478.48 579.73,478.47 M579.62,478.54 C586.83,478.92 606.60,480.16 622.87,480.80 C639.13,481.45 668.14,482.16 677.20,482.43" stroke="#eeee2a" stroke-width="1.35" fill="none"/>
<path d="M579.73,476.67 V479.67" stroke="#eeee2a" stroke-width="0.9"/>
<path d="M514.20,493.10 C514.47,492.99 515.29,492.74 515.84,492.46 C516.38,492.18 516.93,491.80 517.48,491.42 C518.02,491.05 518.57,490.64 519.11,490.22 C519.66,489.81 520.21,489.38 520.75,488.96 C521.30,488.53 521.84,488.09 522.39,487.66 C522.94,487.23 523.48,486.80 524.03,486.38 C524.57,485.96 525.12,485.54 525.67,485.13 C526.21,484.72 526.76,484.31 527.31,483.92 C527.85,483.52 528.40,483.13 528.94,482.76 C529.49,482.38 530.04,482.01 530.58,481.65 C531.13,481.29 531.67,480.95 532.22,480.61 C532.77,480.27 533.31,479.94 533.86,479.62 C534.40,479.30 534.95,478.99 535.50,478.69 C536.04,478.39 536.59,478.10 537.13,477.82 C537.68,477.54 538.23,477.27 538.77,477.01 C539.32,476.74 539.86,476.49 540.41,476.24 C540.96,476.00 541.50,475.76 542.05,475.54 C542.59,475.31 543.14,475.09 543.69,474.88 C544.23,474.67 544.78,474.46 545.32,474.26 C545.87,474.07 546.42,473.88 546.96,473.70 C547.51,473.51 548.06,473.34 548.60,473.17 C549.15,473.00 549.69,472.84 550.24,472.68 C550.79,472.52 551.33,472.37 551.88,472.23 C552.42,472.08 552.97,471.94 553.52,471.81 C554.06,471.67 554.61,471.55 555.15,471.42 C555.70,471.30 556.25,471.18 556.79,471.06 C557.34,470.95 557.88,470.84 558.43,470.73 C558.98,470.63 559.52,470.53 560.07,470.43 C560.61,470.33 561.16,470.24 561.71,470.15 C562.25,470.06 562.80,469.97 563.34,469.89 C563.89,469.81 564.44,469.73 564.98,469.65 C565.53,469.57 566.07,469.50 566.62,469.43 C567.17,469.36 567.71,469.29 568.26,469.23 C568.81,469.16 569.35,469.10 569.90,469.04 C570.44,468.98 570.99,468.92 571.54,468.87 C572.08,468.81 572.63,468.76 573.17,468.71 C573.72,468.66 574.27,468.61 574.81,468.56 C575.36,468.51 575.90,468.47 576.45,468.43 C577.00,468.38 577.54,468.34 578.09,468.30 C578.63,468.26 579.45,468.21 579.73,468.19 M579.62,468.60 C583.93,469.23 596.01,471.37 605.48,472.39 C614.95,473.42 624.50,473.98 636.45,474.75 C648.40,475.51 670.41,476.63 677.20,477.01" stroke="#4aa8c8" stroke-width="1.35" fill="none"/>
<path d="M579.73,466.39 V469.39" stroke="#4aa8c8" stroke-width="0.9"/>
<path d="M514.20,493.10 C514.47,492.91 515.29,492.46 515.84,491.97 C516.38,491.48 516.93,490.80 517.48,490.15 C518.02,489.50 518.57,488.78 519.11,488.07 C519.66,487.36 520.21,486.62 520.75,485.89 C521.30,485.16 521.84,484.42 522.39,483.69 C522.94,482.97 523.48,482.25 524.03,481.55 C524.57,480.84 525.12,480.15 525.67,479.47 C526.21,478.80 526.76,478.13 527.31,477.49 C527.85,476.85 528.40,476.23 528.94,475.62 C529.49,475.01 530.04,474.43 530.58,473.86 C531.13,473.29 531.67,472.74 532.22,472.21 C532.77,471.69 533.31,471.17 533.86,470.68 C534.40,470.19 534.95,469.72 535.50,469.26 C536.04,468.80 536.59,468.36 537.13,467.94 C537.68,467.52 538.23,467.12 538.77,466.73 C539.32,466.34 539.86,465.96 540.41,465.60 C540.96,465.25 541.50,464.90 542.05,464.57 C542.59,464.24 543.14,463.93 543.69,463.62 C544.23,463.32 544.78,463.03 545.32,462.75 C545.87,462.48 546.42,462.21 546.96,461.96 C547.51,461.70 548.06,461.46 548.60,461.23 C549.15,460.99 549.69,460.77 550.24,460.56 C550.79,460.35 551.33,460.14 551.88,459.95 C552.42,459.75 552.97,459.57 553.52,459.39 C554.06,459.21 554.61,459.04 555.15,458.88 C555.70,458.72 556.25,458.56 556.79,458.41 C557.34,458.27 557.88,458.13 558.43,457.99 C558.98,457.86 559.52,457.73 560.07,457.60 C560.61,457.48 561.16,457.36 561.71,457.25 C562.25,457.14 562.80,457.03 563.34,456.93 C563.89,456.83 564.44,456.73 564.98,456.64 C565.53,456.54 566.07,456.45 566.62,456.37 C567.17,456.28 567.71,456.20 568.26,456.13 C568.81,456.05 569.35,455.98 569.90,455.91 C570.44,455.84 570.99,455.77 571.54,455.70 C572.08,455.64 572.63,455.58 573.17,455.52 C573.72,455.46 574.27,455.41 574.81,455.36 C575.36,455.30 575.90,455.25 576.45,455.20 C577.00,455.16 577.54,455.11 578.09,455.07 C578.63,455.02 579.45,454.96 579.73,454.94 M579.62,455.58 C581.39,456.23 585.96,458.06 590.27,459.47 C594.58,460.87 600.32,462.72 605.48,463.99 C610.64,465.25 616.08,466.17 621.24,467.06 C626.40,467.95 627.12,468.43 636.45,469.32 C645.78,470.21 670.41,471.88 677.20,472.39" stroke="#2cf02c" stroke-width="1.35" fill="none"/>
<path d="M579.73,453.14 V456.14" stroke="#2cf02c" stroke-width="0.9"/>
<path d="M514.20,493.10 C514.47,492.68 515.29,491.58 515.84,490.58 C516.38,489.58 516.93,488.29 517.48,487.10 C518.02,485.90 518.57,484.63 519.11,483.41 C519.66,482.18 520.21,480.94 520.75,479.74 C521.30,478.54 521.84,477.35 522.39,476.20 C522.94,475.05 523.48,473.93 524.03,472.85 C524.57,471.77 525.12,470.72 525.67,469.71 C526.21,468.70 526.76,467.72 527.31,466.79 C527.85,465.85 528.40,464.96 528.94,464.09 C529.49,463.23 530.04,462.41 530.58,461.62 C531.13,460.83 531.67,460.07 532.22,459.35 C532.77,458.62 533.31,457.94 533.86,457.28 C534.40,456.62 534.95,455.99 535.50,455.39 C536.04,454.79 536.59,454.22 537.13,453.67 C537.68,453.12 538.23,452.61 538.77,452.11 C539.32,451.62 539.86,451.15 540.41,450.70 C540.96,450.25 541.50,449.83 542.05,449.42 C542.59,449.01 543.14,448.63 543.69,448.26 C544.23,447.90 544.78,447.55 545.32,447.22 C545.87,446.89 546.42,446.57 546.96,446.27 C547.51,445.97 548.06,445.69 548.60,445.42 C549.15,445.15 549.69,444.90 550.24,444.65 C550.79,444.41 551.33,444.18 551.88,443.96 C552.42,443.74 552.97,443.53 553.52,443.33 C554.06,443.14 554.61,442.95 555.15,442.77 C555.70,442.59 556.25,442.43 556.79,442.27 C557.34,442.10 557.88,441.95 558.43,441.81 C558.98,441.66 559.52,441.53 560.07,441.40 C560.61,441.27 561.16,441.15 561.71,441.03 C562.25,440.91 562.80,440.80 563.34,440.70 C563.89,440.59 564.44,440.49 564.98,440.40 C565.53,440.30 566.07,440.21 566.62,440.13 C567.17,440.04 567.71,439.96 568.26,439.89 C568.81,439.81 569.35,439.74 569.90,439.67 C570.44,439.60 570.99,439.54 571.54,439.47 C572.08,439.41 572.63,439.35 573.17,439.30 C573.72,439.24 574.27,439.19 574.81,439.14 C575.36,439.09 575.90,439.04 576.45,439.00 C577.00,438.96 577.54,438.91 578.09,438.87 C578.63,438.83 579.45,438.78 579.73,438.76 M579.62,439.57 C581.66,440.91 587.36,445.16 591.90,447.62 C596.43,450.08 601.87,452.44 606.84,454.31 C611.81,456.18 614.29,457.22 621.73,458.83 C629.16,460.44 642.26,462.51 651.45,463.99 C660.63,465.46 672.59,467.08 676.82,467.69" stroke="#8a8a2a" stroke-width="1.35" fill="none"/>
<path d="M579.73,436.96 V439.96" stroke="#8a8a2a" stroke-width="0.9"/>
<path d="M514.20,493.10 C514.47,492.09 515.29,489.20 515.84,487.04 C516.38,484.89 516.93,482.42 517.48,480.18 C518.02,477.94 518.57,475.72 519.11,473.62 C519.66,471.52 520.21,469.50 520.75,467.59 C521.30,465.68 521.84,463.86 522.39,462.14 C522.94,460.43 523.48,458.81 524.03,457.28 C524.57,455.75 525.12,454.32 525.67,452.97 C526.21,451.61 526.76,450.35 527.31,449.16 C527.85,447.97 528.40,446.86 528.94,445.81 C529.49,444.76 530.04,443.79 530.58,442.87 C531.13,441.95 531.67,441.10 532.22,440.30 C532.77,439.49 533.31,438.75 533.86,438.05 C534.40,437.35 534.95,436.70 535.50,436.09 C536.04,435.47 536.59,434.91 537.13,434.37 C537.68,433.84 538.23,433.35 538.77,432.88 C539.32,432.42 539.86,431.99 540.41,431.58 C540.96,431.18 541.50,430.81 542.05,430.45 C542.59,430.10 543.14,429.78 543.69,429.47 C544.23,429.17 544.78,428.88 545.32,428.62 C545.87,428.35 546.42,428.11 546.96,427.88 C547.51,427.64 548.06,427.43 548.60,427.23 C549.15,427.03 549.69,426.85 550.24,426.67 C550.79,426.50 551.33,426.34 551.88,426.19 C552.42,426.03 552.97,425.89 553.52,425.76 C554.06,425.63 554.61,425.51 555.15,425.40 C555.70,425.28 556.25,425.18 556.79,425.08 C557.34,424.98 557.88,424.89 558.43,424.80 C558.98,424.72 559.52,424.64 560.07,424.56 C560.61,424.49 561.16,424.42 561.71,424.36 C562.25,424.29 562.80,424.23 563.34,424.18 C563.89,424.12 564.44,424.07 564.98,424.02 C565.53,423.97 566.07,423.93 566.62,423.88 C567.17,423.84 567.71,423.80 568.26,423.77 C568.81,423.73 569.35,423.70 569.90,423.66 C570.44,423.63 570.99,423.60 571.54,423.58 C572.08,423.55 572.63,423.52 573.17,423.50 C573.72,423.48 574.27,423.45 574.81,423.43 C575.36,423.41 575.90,423.39 576.45,423.38 C577.00,423.36 577.54,423.34 578.09,423.33 C578.63,423.31 579.45,423.29 579.73,423.28 M579.73,423.48 C580.03,424.16 580.72,426.27 581.57,427.55 C582.42,428.83 583.11,429.79 584.83,431.16 C586.55,432.54 588.23,433.26 591.90,435.78 C595.56,438.29 601.87,443.28 606.84,446.26 C611.81,449.25 616.76,451.58 621.73,453.68 C626.69,455.77 631.66,457.36 636.61,458.83 C641.57,460.31 644.74,461.29 651.45,462.54 C658.15,463.79 672.59,465.70 676.82,466.34" stroke="#f02424" stroke-width="1.35" fill="none"/>
<path d="M579.73,421.48 V424.48" stroke="#f02424" stroke-width="0.9"/>
<path d="M514.20,493.10 C514.47,490.79 515.29,483.53 515.84,479.23 C516.38,474.93 516.93,470.94 517.48,467.27 C518.02,463.60 518.57,460.29 519.11,457.21 C519.66,454.13 520.21,451.37 520.75,448.79 C521.30,446.22 521.84,443.91 522.39,441.76 C522.94,439.61 523.48,437.69 524.03,435.89 C524.57,434.10 525.12,432.50 525.67,431.00 C526.21,429.51 526.76,428.18 527.31,426.93 C527.85,425.69 528.40,424.58 528.94,423.54 C529.49,422.51 530.04,421.59 530.58,420.72 C531.13,419.86 531.67,419.09 532.22,418.38 C532.77,417.66 533.31,417.02 533.86,416.42 C534.40,415.83 534.95,415.29 535.50,414.79 C536.04,414.29 536.59,413.85 537.13,413.43 C537.68,413.01 538.23,412.63 538.77,412.27 C539.32,411.91 539.86,411.58 540.41,411.26 C540.96,410.95 541.50,410.65 542.05,410.36 C542.59,410.07 543.14,409.79 543.69,409.52 C544.23,409.25 544.78,408.99 545.32,408.74 C545.87,408.50 546.42,408.26 546.96,408.05 C547.51,407.85 548.06,407.66 548.60,407.50 C549.15,407.35 549.69,407.23 550.24,407.14 C550.79,407.05 551.33,407.01 551.88,406.98 C552.42,406.96 552.97,406.97 553.52,406.99 C554.06,407.02 554.61,407.07 555.15,407.12 C555.70,407.18 556.25,407.25 556.79,407.33 C557.34,407.40 557.88,407.48 558.43,407.56 C558.98,407.64 559.52,407.72 560.07,407.78 C560.61,407.84 561.16,407.90 561.71,407.92 C562.25,407.95 562.80,407.96 563.34,407.93 C563.89,407.91 564.44,407.86 564.98,407.80 C565.53,407.74 566.07,407.65 566.62,407.57 C567.17,407.49 567.71,407.40 568.26,407.32 C568.81,407.25 569.35,407.18 569.90,407.13 C570.44,407.08 570.99,407.04 571.54,407.00 C572.08,406.97 572.63,406.95 573.17,406.93 C573.72,406.92 574.27,406.91 574.81,406.90 C575.36,406.89 575.90,406.88 576.45,406.88 C577.00,406.87 577.54,406.86 578.09,406.86 C578.63,406.86 579.45,406.85 579.73,406.85 M579.62,406.57 C580.13,408.24 580.93,413.02 582.71,416.61 C584.50,420.19 587.78,424.91 590.32,428.09 C592.87,431.27 595.43,433.39 597.98,435.69 C600.54,437.98 601.80,439.41 605.64,441.83 C609.48,444.26 615.91,447.83 621.02,450.24 C626.13,452.65 631.19,454.66 636.29,456.30 C641.39,457.94 644.84,458.70 651.61,460.10 C658.38,461.50 672.71,463.94 676.93,464.71" stroke="#c23cf6" stroke-width="1.35" fill="none"/>
<path d="M579.73,405.05 V408.05" stroke="#c23cf6" stroke-width="0.9"/>
<path d="M514.20,493.10 C515.11,492.78 517.82,491.78 519.63,491.16 C521.44,490.54 523.26,489.94 525.07,489.37 C526.88,488.81 528.69,488.27 530.50,487.75 C532.31,487.23 534.12,486.74 535.93,486.26 C537.74,485.79 539.56,485.34 541.37,484.91 C543.18,484.48 544.99,484.07 546.80,483.67 C548.61,483.27 550.42,482.89 552.23,482.53 C554.04,482.17 555.86,481.83 557.67,481.50 C559.48,481.17 561.29,480.85 563.10,480.55 C564.91,480.25 566.72,479.96 568.53,479.68 C570.34,479.41 572.16,479.15 573.97,478.90 C575.78,478.64 578.49,478.29 579.40,478.17 L579.40,477.73 C579.49,477.96 572.70,478.06 579.94,479.09 C587.19,480.11 611.18,482.82 622.87,483.88 C634.55,484.93 640.98,484.89 650.03,485.41 C659.09,485.94 672.67,486.77 677.20,487.04" stroke="#1a1a1a" stroke-width="1.1" stroke-dasharray="3 2" fill="none"/>
<path d="M514.20,493.10 C515.11,492.53 517.82,490.75 519.63,489.66 C521.44,488.56 523.26,487.53 525.07,486.54 C526.88,485.56 528.69,484.62 530.50,483.72 C532.31,482.83 534.12,481.98 535.93,481.17 C537.74,480.36 539.56,479.60 541.37,478.87 C543.18,478.14 544.99,477.44 546.80,476.78 C548.61,476.12 550.42,475.49 552.23,474.89 C554.04,474.29 555.86,473.72 557.67,473.18 C559.48,472.64 561.29,472.12 563.10,471.64 C564.91,471.15 566.72,470.69 568.53,470.24 C570.34,469.80 572.16,469.37 573.97,468.97 C575.78,468.57 578.49,468.02 579.40,467.83 L579.40,467.42 C579.49,467.63 575.60,467.47 579.94,468.69 C584.29,469.91 596.06,472.97 605.48,474.75 C614.90,476.52 624.50,478.21 636.45,479.36 C648.40,480.50 670.41,481.24 677.20,481.62" stroke="#1a1a1a" stroke-width="1.1" stroke-dasharray="3 2" fill="none"/>
<path d="M514.20,493.10 C515.11,492.08 517.82,488.90 519.63,486.97 C521.44,485.04 523.26,483.24 525.07,481.53 C526.88,479.81 528.69,478.22 530.50,476.70 C532.31,475.18 534.12,473.77 535.93,472.42 C537.74,471.08 539.56,469.82 541.37,468.62 C543.18,467.43 544.99,466.32 546.80,465.26 C548.61,464.20 550.42,463.21 552.23,462.27 C554.04,461.33 555.86,460.45 557.67,459.62 C559.48,458.79 561.29,458.02 563.10,457.28 C564.91,456.54 566.72,455.84 568.53,455.19 C570.34,454.53 572.16,453.92 573.97,453.34 C575.78,452.76 578.49,451.98 579.40,451.71 L579.40,451.51 C579.49,451.81 578.13,452.22 579.94,453.32 C581.75,454.42 586.01,456.33 590.27,458.11 C594.52,459.89 597.78,461.86 605.48,463.99 C613.18,466.11 624.50,468.93 636.45,470.86 C648.40,472.79 670.41,474.78 677.20,475.56" stroke="#1a1a1a" stroke-width="1.1" stroke-dasharray="3 2" fill="none"/>
<path d="M514.20,493.10 C515.11,491.19 517.82,485.10 519.63,481.63 C521.44,478.15 523.26,475.08 525.07,472.23 C526.88,469.39 528.69,466.88 530.50,464.55 C532.31,462.22 534.12,460.15 535.93,458.24 C537.74,456.34 539.56,454.65 541.37,453.09 C543.18,451.53 544.99,450.15 546.80,448.87 C548.61,447.59 550.42,446.46 552.23,445.41 C554.04,444.37 555.86,443.44 557.67,442.58 C559.48,441.73 561.29,440.97 563.10,440.27 C564.91,439.57 566.72,438.94 568.53,438.37 C570.34,437.80 572.16,437.29 573.97,436.82 C575.78,436.35 578.49,435.76 579.40,435.55 L579.40,435.41 C579.49,435.99 578.13,437.40 579.94,438.85 C581.75,440.30 586.01,442.03 590.27,444.09 C594.52,446.16 600.32,449.17 605.48,451.24 C610.64,453.30 609.28,453.45 621.24,456.48 C633.19,459.51 667.87,467.26 677.20,469.41" stroke="#1a1a1a" stroke-width="1.1" stroke-dasharray="3 2" fill="none"/>
<path d="M514.20,493.10 C515.11,488.95 517.82,475.00 519.63,468.20 C521.44,461.40 523.26,456.66 525.07,452.32 C526.88,447.99 528.69,444.96 530.50,442.20 C532.31,439.43 534.12,437.50 535.93,435.74 C537.74,433.98 539.56,432.75 541.37,431.63 C543.18,430.50 544.99,429.72 546.80,429.00 C548.61,428.29 550.42,427.79 552.23,427.33 C554.04,426.87 555.86,426.56 557.67,426.26 C559.48,425.97 561.29,425.76 563.10,425.58 C564.91,425.39 566.72,425.26 568.53,425.14 C570.34,425.03 572.16,424.95 573.97,424.87 C575.78,424.80 578.49,424.72 579.40,424.69 L579.40,423.93 C579.49,424.46 578.13,425.23 579.94,427.10 C581.75,428.96 586.01,432.23 590.27,435.14 C594.52,438.05 600.32,441.83 605.48,444.55 C610.64,447.26 609.28,447.68 621.24,451.42 C633.19,455.16 667.87,464.38 677.20,466.97" stroke="#1a1a1a" stroke-width="1.1" stroke-dasharray="3 2" fill="none"/>
<path d="M514.20,493.10 C515.11,484.82 517.82,454.90 519.63,443.42 C521.44,431.93 523.26,428.64 525.07,424.20 C526.88,419.76 528.69,418.49 530.50,416.77 C532.31,415.05 534.12,414.56 535.93,413.90 C537.74,413.23 539.56,413.05 541.37,412.79 C543.18,412.54 544.99,412.46 546.80,412.36 C548.61,412.26 550.42,412.23 552.23,412.20 C554.04,412.16 555.86,412.14 557.67,412.12 C559.48,412.11 561.29,412.11 563.10,412.10 C564.91,412.10 566.72,412.10 568.53,412.10 C570.34,412.09 572.16,412.09 573.97,412.09 C575.78,412.09 578.49,412.09 579.40,412.09 L579.40,412.27 C579.49,413.99 578.13,419.50 579.94,422.58 C581.75,425.65 587.26,428.14 590.27,430.71 C593.27,433.29 595.45,436.15 597.98,438.04 C600.52,439.92 601.64,439.72 605.48,442.01 C609.32,444.31 615.86,449.37 621.02,451.78 C626.18,454.19 627.09,454.19 636.45,456.48 C645.81,458.77 670.41,464.02 677.20,465.52" stroke="#1a1a1a" stroke-width="1.1" stroke-dasharray="3 2" fill="none"/>
<path d="M514.2,384.6 H677.2 V493.1" stroke="#1a1a1a" stroke-width="1.2" fill="none"/>
<path d="M514.2,384.0 V493.1 H677.8000000000001" stroke="#262626" stroke-width="1.7" fill="none"/>
<path d="M510.6,493.10 H514.2" stroke="#262626" stroke-width="1.3"/>
<text x="508.60" y="496.90" font-size="7.90" font-weight="bold" text-anchor="end" fill="#1a1a1a">0</text>
<path d="M510.6,447.89 H514.2" stroke="#262626" stroke-width="1.3"/>
<text x="508.60" y="451.69" font-size="7.90" font-weight="bold" text-anchor="end" fill="#1a1a1a">50</text>
<path d="M510.6,402.68 H514.2" stroke="#262626" stroke-width="1.3"/>
<text x="508.60" y="406.48" font-size="7.90" font-weight="bold" text-anchor="end" fill="#1a1a1a">100</text>
<path d="M514.20,493.1 V496.70000000000005" stroke="#262626" stroke-width="1.3"/>
<text x="514.20" y="506.70" font-size="8.20" font-weight="bold" text-anchor="middle" fill="#1a1a1a">0</text>
<path d="M568.53,493.1 V496.70000000000005" stroke="#262626" stroke-width="1.3"/>
<text x="568.53" y="506.70" font-size="8.20" font-weight="bold" text-anchor="middle" fill="#1a1a1a">100</text>
<path d="M622.87,493.1 V496.70000000000005" stroke="#262626" stroke-width="1.3"/>
<text x="622.87" y="506.70" font-size="8.20" font-weight="bold" text-anchor="middle" fill="#1a1a1a">200</text>
<path d="M677.20,493.1 V496.70000000000005" stroke="#262626" stroke-width="1.3"/>
<text x="677.20" y="506.70" font-size="8.20" font-weight="bold" text-anchor="middle" fill="#1a1a1a">300</text>
<text x="584.86" y="374.80" font-size="12.66" fill="#1a1a1a">E8</text>
<text x="517.70" y="395.40" font-size="9" font-weight="bold" fill="#1a1a1a">K<tspan font-size="6.4" dy="2">D</tspan><tspan dy="-2">: 7.6nM</tspan></text>
<path d="M628.0,392.7 H639.5" stroke="#eeee2a" stroke-width="1.3"/>
<text x="645.72" y="395.25" font-size="7.4" fill="#1a1a1a">3.9nM</text>
<path d="M628.0,403.2 H639.5" stroke="#4aa8c8" stroke-width="1.3"/>
<text x="645.62" y="405.75" font-size="7.4" fill="#1a1a1a">7.8nM</text>
<path d="M628.0,413.5 H639.5" stroke="#2cf02c" stroke-width="1.3"/>
<text x="645.44" y="416.05" font-size="7.4" fill="#1a1a1a">15.6nM</text>
<path d="M628.0,424.2 H639.5" stroke="#8a8a2a" stroke-width="1.3"/>
<text x="645.72" y="426.75" font-size="7.4" fill="#1a1a1a">31.25nM</text>
<path d="M628.0,434.7 H639.5" stroke="#f02424" stroke-width="1.3"/>
<text x="645.62" y="437.25" font-size="7.4" fill="#1a1a1a">62.5nM</text>
<path d="M628.0,445.2 H639.5" stroke="#c23cf6" stroke-width="1.3"/>
<text x="645.44" y="447.75" font-size="7.4" fill="#1a1a1a">125nM</text>
<text x="573.42" y="518.10" font-size="12.37" fill="#1a1a1a">Time (s)</text>
<text transform="translate(484.70,498.22) rotate(-90)" font-size="12.47" fill="#1a1a1a">Response Units (RU)</text>
<text transform="translate(64.66,566.80) scale(1,1.07)" font-size="12.33" fill="#1a1a1a">shYAP #1</text>
<text transform="translate(129.36,566.80) scale(1,1.07)" font-size="12.34" fill="#1a1a1a">shYAP #2</text>
<path d="M78.2,571.9 H116.0" stroke="#222" stroke-width="1.5"/>
<path d="M131.2,571.9 H169.3" stroke="#222" stroke-width="1.5"/>
<text transform="translate(37.28,592.50) scale(1,1.07)" font-size="13.71" fill="#1a1a1a">DOX</text>
<path d="M83.85,586.40 H88.55" stroke="#111" stroke-width="1.45"/>
<path d="M105.90,586.40 H113.10 M109.50,582.80 V590.00" stroke="#111" stroke-width="1.45"/>
<path d="M130.75,586.40 H135.45" stroke="#111" stroke-width="1.45"/>
<path d="M152.60,586.40 H159.80 M156.20,582.80 V590.00" stroke="#111" stroke-width="1.45"/>
<text transform="translate(172.02,589.54) scale(1,1.07)" font-size="12.50" fill="#1a1a1a">(kDa)</text>
<rect x="70.30" y="594.80" width="100.10" height="29.20" fill="#f5f5f5"/>
<rect x="70.30" y="627.90" width="100.10" height="29.50" fill="#f4f4f4"/>
<rect x="75.15" y="605.10" width="20.50" height="9.20" rx="4.60" fill="#2c2c2c" opacity="0.25" filter="url(#b2)"/>
<rect x="76.65" y="606.60" width="17.50" height="6.20" rx="2.79" fill="#2c2c2c" opacity="1.0" filter="url(#b08)"/>
<rect x="99.00" y="606.00" width="18.00" height="8.00" rx="4.00" fill="#d4d4d4" opacity="0.25" filter="url(#b2)"/>
<rect x="100.50" y="607.50" width="15.00" height="5.00" rx="2.25" fill="#d4d4d4" opacity="1.0" filter="url(#b08)"/>
<rect x="122.65" y="602.60" width="19.50" height="11.00" rx="5.50" fill="#030303" opacity="0.25" filter="url(#b2)"/>
<rect x="124.15" y="604.10" width="16.50" height="8.00" rx="3.60" fill="#030303" opacity="1.0" filter="url(#b08)"/>
<rect x="146.50" y="606.00" width="17.00" height="8.00" rx="4.00" fill="#d6d6d6" opacity="0.25" filter="url(#b2)"/>
<rect x="148.00" y="607.50" width="14.00" height="5.00" rx="2.25" fill="#d6d6d6" opacity="1.0" filter="url(#b08)"/>
<rect x="74.30" y="636.20" width="23.00" height="9.60" rx="4.80" fill="#060606" opacity="0.25" filter="url(#b2)"/>
<rect x="75.80" y="637.70" width="20.00" height="6.60" rx="2.97" fill="#060606" opacity="1.0" filter="url(#b08)"/>
<rect x="99.25" y="637.50" width="20.50" height="7.80" rx="3.90" fill="#1c1c1c" opacity="0.25" filter="url(#b2)"/>
<rect x="100.75" y="639.00" width="17.50" height="4.80" rx="2.16" fill="#1c1c1c" opacity="1.0" filter="url(#b08)"/>
<rect x="120.95" y="636.60" width="20.50" height="9.20" rx="4.60" fill="#0a0a0a" opacity="0.25" filter="url(#b2)"/>
<rect x="122.45" y="638.10" width="17.50" height="6.20" rx="2.79" fill="#0a0a0a" opacity="1.0" filter="url(#b08)"/>
<rect x="143.50" y="637.80" width="22.00" height="8.00" rx="4.00" fill="#1e1e1e" opacity="0.25" filter="url(#b2)"/>
<rect x="145.00" y="639.30" width="19.00" height="5.00" rx="2.25" fill="#1e1e1e" opacity="1.0" filter="url(#b08)"/>
<rect x="70.30" y="594.80" width="100.10" height="29.20" fill="none" stroke="#1a1a1a" stroke-width="1.4"/>
<rect x="70.30" y="627.90" width="100.10" height="29.50" fill="none" stroke="#1a1a1a" stroke-width="1.4"/>
<text transform="translate(38.41,613.20) scale(1,1.07)" font-size="13.29" fill="#1a1a1a">YAP</text>
<text transform="translate(25.45,648.20) scale(1,1.07)" font-size="13.72" fill="#1a1a1a">β-actin</text>
<text transform="translate(174.11,624.80) scale(1,1.07)" font-size="13.36" fill="#1a1a1a">-60</text>
<text transform="translate(174.11,654.00) scale(1,1.07)" font-size="13.36" fill="#1a1a1a">-40</text>
<text transform="translate(97.01,676.30) scale(1,1.07)" font-size="12.37" fill="#1a1a1a">OMM2.3</text>
<text transform="translate(63.06,745.20) scale(1,1.07)" font-size="12.20" fill="#1a1a1a">shYAP #1</text>
<text transform="translate(126.86,745.20) scale(1,1.07)" font-size="12.31" fill="#1a1a1a">shYAP #2</text>
<path d="M76.1,749.9 H114.6" stroke="#222" stroke-width="1.5"/>
<path d="M129.3,749.9 H167.6" stroke="#222" stroke-width="1.5"/>
<text transform="translate(35.88,769.50) scale(1,1.07)" font-size="13.71" fill="#1a1a1a">DOX</text>
<path d="M80.75,762.60 H85.45" stroke="#111" stroke-width="1.45"/>
<path d="M103.30,762.60 H110.50 M106.90,759.00 V766.20" stroke="#111" stroke-width="1.45"/>
<path d="M128.65,762.60 H133.35" stroke="#111" stroke-width="1.45"/>
<path d="M150.00,762.60 H157.20 M153.60,759.00 V766.20" stroke="#111" stroke-width="1.45"/>
<text transform="translate(168.51,764.80) scale(1,1.07)" font-size="12.76" fill="#1a1a1a">(kDa)</text>
<rect x="68.80" y="771.60" width="100.50" height="29.40" fill="#f5f5f5"/>
<rect x="68.80" y="804.60" width="100.50" height="29.30" fill="#f4f4f4"/>
<rect x="72.45" y="780.50" width="20.50" height="9.60" rx="4.80" fill="#6e6e6e" opacity="0.25" filter="url(#b2)"/>
<rect x="73.95" y="782.00" width="17.50" height="6.60" rx="2.97" fill="#6e6e6e" opacity="1.0" filter="url(#b08)"/>
<rect x="98.50" y="782.45" width="18.00" height="7.50" rx="3.75" fill="#dedede" opacity="0.25" filter="url(#b2)"/>
<rect x="100.00" y="783.95" width="15.00" height="4.50" rx="2.02" fill="#dedede" opacity="1.0" filter="url(#b08)"/>
<rect x="119.05" y="779.80" width="21.30" height="11.00" rx="5.50" fill="#606060" opacity="0.25" filter="url(#b2)"/>
<rect x="120.55" y="781.30" width="18.30" height="8.00" rx="3.60" fill="#606060" opacity="1.0" filter="url(#b08)"/>
<rect x="144.50" y="782.45" width="17.00" height="7.50" rx="3.75" fill="#e0e0e0" opacity="0.25" filter="url(#b2)"/>
<rect x="146.00" y="783.95" width="14.00" height="4.50" rx="2.02" fill="#e0e0e0" opacity="1.0" filter="url(#b08)"/>
<rect x="74.00" y="811.90" width="23.00" height="9.40" rx="4.70" fill="#050505" opacity="0.25" filter="url(#b2)"/>
<rect x="75.50" y="813.40" width="20.00" height="6.40" rx="2.88" fill="#050505" opacity="1.0" filter="url(#b08)"/>
<rect x="99.05" y="812.00" width="17.50" height="9.20" rx="4.60" fill="#080808" opacity="0.25" filter="url(#b2)"/>
<rect x="100.55" y="813.50" width="14.50" height="6.20" rx="2.79" fill="#080808" opacity="1.0" filter="url(#b08)"/>
<rect x="118.50" y="811.70" width="21.00" height="9.40" rx="4.70" fill="#050505" opacity="0.25" filter="url(#b2)"/>
<rect x="120.00" y="813.20" width="18.00" height="6.40" rx="2.88" fill="#050505" opacity="1.0" filter="url(#b08)"/>
<rect x="142.25" y="810.60" width="20.50" height="9.20" rx="4.60" fill="#080808" opacity="0.25" filter="url(#b2)"/>
<rect x="143.75" y="812.10" width="17.50" height="6.20" rx="2.79" fill="#080808" opacity="1.0" filter="url(#b08)"/>
<rect x="68.80" y="771.60" width="100.50" height="29.40" fill="none" stroke="#1a1a1a" stroke-width="1.4"/>
<rect x="68.80" y="804.60" width="100.50" height="29.30" fill="none" stroke="#1a1a1a" stroke-width="1.4"/>
<text transform="translate(39.10,792.90) scale(1,1.07)" font-size="13.45" fill="#1a1a1a">YAP</text>
<text transform="translate(23.96,824.00) scale(1,1.07)" font-size="13.62" fill="#1a1a1a">β-actin</text>
<text transform="translate(171.51,800.75) scale(1,1.07)" font-size="13.22" fill="#1a1a1a">-60</text>
<text transform="translate(171.51,829.35) scale(1,1.07)" font-size="13.22" fill="#1a1a1a">-40</text>
<text transform="translate(103.52,852.40) scale(1,1.07)" font-size="12.83" fill="#1a1a1a">IM95</text>
<text transform="translate(303.56,553.30) scale(1,1.07)" font-size="12.15" fill="#1a1a1a">shYAP #1</text>
<text transform="translate(362.16,553.30) scale(1,1.07)" font-size="12.31" fill="#1a1a1a">shYAP #2</text>
<path d="M312.7,559.0 H350.7" stroke="#222" stroke-width="1.5"/>
<path d="M365.4,559.0 H403.8" stroke="#222" stroke-width="1.5"/>
<text transform="translate(274.58,578.90) scale(1,1.07)" font-size="13.61" fill="#1a1a1a">DOX</text>
<text transform="translate(220.80,597.30) scale(1,1.07)" font-size="13.62" fill="#1a1a1a">YAP NB (E8)</text>
<text transform="translate(211.97,615.90) scale(1,1.07)" font-size="13.56" fill="#1a1a1a">Anti-HA beads</text>
<path d="M320.65,574.20 H325.35" stroke="#111" stroke-width="1.45"/>
<path d="M344.40,574.20 H351.60 M348.00,570.60 V577.80" stroke="#111" stroke-width="1.45"/>
<path d="M372.15,574.20 H376.85" stroke="#111" stroke-width="1.45"/>
<path d="M395.70,574.20 H402.90 M399.30,570.60 V577.80" stroke="#111" stroke-width="1.45"/>
<path d="M319.40,592.40 H326.60 M323.00,588.80 V596.00" stroke="#111" stroke-width="1.45"/>
<path d="M344.40,592.40 H351.60 M348.00,588.80 V596.00" stroke="#111" stroke-width="1.45"/>
<path d="M370.90,592.40 H378.10 M374.50,588.80 V596.00" stroke="#111" stroke-width="1.45"/>
<path d="M395.70,592.40 H402.90 M399.30,588.80 V596.00" stroke="#111" stroke-width="1.45"/>
<path d="M319.40,611.40 H326.60 M323.00,607.80 V615.00" stroke="#111" stroke-width="1.45"/>
<path d="M344.40,611.40 H351.60 M348.00,607.80 V615.00" stroke="#111" stroke-width="1.45"/>
<path d="M370.90,611.40 H378.10 M374.50,607.80 V615.00" stroke="#111" stroke-width="1.45"/>
<path d="M395.70,611.40 H402.90 M399.30,607.80 V615.00" stroke="#111" stroke-width="1.45"/>
<text transform="translate(412.82,614.66) scale(1,1.07)" font-size="12.58" fill="#1a1a1a">(kDa)</text>
<defs><linearGradient id="ipg622" x1="0" x2="0" y1="0" y2="1"><stop offset="0" stop-color="#e2e2e2"/><stop offset="0.55" stop-color="#d8d8d8"/><stop offset="1" stop-color="#cccccc"/></linearGradient></defs>
<rect x="310.6" y="622.8" width="100.00" height="35.80" fill="url(#ipg622)"/>
<rect x="313.00" y="645.00" width="19.00" height="13.60" fill="#8a8a8a" opacity="0.35" filter="url(#b2)"/>
<rect x="338.00" y="645.00" width="19.00" height="13.60" fill="#8a8a8a" opacity="0.35" filter="url(#b2)"/>
<rect x="364.00" y="644.00" width="18.00" height="14.60" fill="#8a8a8a" opacity="0.35" filter="url(#b2)"/>
<rect x="389.50" y="645.00" width="18.00" height="13.60" fill="#8a8a8a" opacity="0.35" filter="url(#b2)"/>
<rect x="311.50" y="640.90" width="22.00" height="7.80" rx="3.90" fill="#050505" opacity="0.20" filter="url(#b2)"/>
<rect x="313.00" y="642.40" width="19.00" height="4.80" rx="2.16" fill="#050505" opacity="1.0" filter="url(#b08)"/>
<rect x="336.50" y="641.70" width="22.00" height="7.00" rx="3.50" fill="#202020" opacity="0.20" filter="url(#b2)"/>
<rect x="338.00" y="643.20" width="19.00" height="4.00" rx="1.80" fill="#202020" opacity="1.0" filter="url(#b08)"/>
<rect x="362.50" y="640.10" width="21.00" height="8.60" rx="4.30" fill="#030303" opacity="0.20" filter="url(#b2)"/>
<rect x="364.00" y="641.60" width="18.00" height="5.60" rx="2.52" fill="#030303" opacity="1.0" filter="url(#b08)"/>
<rect x="387.80" y="642.10" width="21.40" height="6.80" rx="3.40" fill="#4a4a4a" opacity="0.20" filter="url(#b2)"/>
<rect x="389.30" y="643.60" width="18.40" height="3.80" rx="1.71" fill="#4a4a4a" opacity="1.0" filter="url(#b08)"/>
<rect x="313.00" y="631.30" width="17.00" height="2.60" rx="1.17" fill="#b0b0b0" opacity="1.0" filter="url(#b08)"/>
<rect x="364.00" y="628.40" width="18.00" height="3.60" rx="1.62" fill="#8e8e8e" opacity="1.0" filter="url(#b08)"/>
<rect x="310.60" y="622.80" width="100.00" height="35.80" fill="none" stroke="#1a1a1a" stroke-width="1.4"/>
<text transform="translate(272.91,634.50) scale(1,1.07)" font-size="13.34" fill="#1a1a1a">YAP</text>
<text transform="translate(413.29,635.52) scale(1,1.07)" font-size="13.73" fill="#1a1a1a">-60</text>
<text transform="translate(413.29,650.83) scale(1,1.07)" font-size="13.76" fill="#1a1a1a">-55</text>
<path d="M310.8,680.0 L323.4,664.4" stroke="#1a1a1a" stroke-width="1.2"/>
<path d="M323.4,664.4 L316.85,666.87" stroke="#1a1a1a" stroke-width="1.2"/>
<path d="M323.4,664.4 L322.36,671.32" stroke="#1a1a1a" stroke-width="1.2"/>
<text transform="translate(267.17,692.90) scale(1,1.07)" font-size="14.92" fill="#1a1a1a">heavy chain</text>
<text transform="translate(294.66,729.20) scale(1,1.07)" font-size="12.33" fill="#1a1a1a">shYAP #1</text>
<text transform="translate(356.65,729.20) scale(1,1.07)" font-size="12.43" fill="#1a1a1a">shYAP #2</text>
<path d="M308.6,734.7 H347.4" stroke="#222" stroke-width="1.5"/>
<path d="M361.8,734.7 H400.6" stroke="#222" stroke-width="1.5"/>
<text transform="translate(270.56,753.70) scale(1,1.07)" font-size="13.91" fill="#1a1a1a">DOX</text>
<text transform="translate(217.30,772.10) scale(1,1.07)" font-size="13.62" fill="#1a1a1a">YAP NB (E8)</text>
<text transform="translate(208.37,791.90) scale(1,1.07)" font-size="13.57" fill="#1a1a1a">Anti-HA beads</text>
<path d="M317.25,749.00 H321.95" stroke="#111" stroke-width="1.45"/>
<path d="M339.40,749.00 H346.60 M343.00,745.40 V752.60" stroke="#111" stroke-width="1.45"/>
<path d="M368.65,749.00 H373.35" stroke="#111" stroke-width="1.45"/>
<path d="M392.20,749.00 H399.40 M395.80,745.40 V752.60" stroke="#111" stroke-width="1.45"/>
<path d="M316.00,767.60 H323.20 M319.60,764.00 V771.20" stroke="#111" stroke-width="1.45"/>
<path d="M339.40,767.60 H346.60 M343.00,764.00 V771.20" stroke="#111" stroke-width="1.45"/>
<path d="M367.40,767.60 H374.60 M371.00,764.00 V771.20" stroke="#111" stroke-width="1.45"/>
<path d="M392.20,767.60 H399.40 M395.80,764.00 V771.20" stroke="#111" stroke-width="1.45"/>
<path d="M316.00,787.30 H323.20 M319.60,783.70 V790.90" stroke="#111" stroke-width="1.45"/>
<path d="M339.40,787.30 H346.60 M343.00,783.70 V790.90" stroke="#111" stroke-width="1.45"/>
<path d="M367.40,787.30 H374.60 M371.00,783.70 V790.90" stroke="#111" stroke-width="1.45"/>
<path d="M392.20,787.30 H399.40 M395.80,783.70 V790.90" stroke="#111" stroke-width="1.45"/>
<text transform="translate(405.42,790.56) scale(1,1.07)" font-size="12.58" fill="#1a1a1a">(kDa)</text>
<defs><linearGradient id="ipg797" x1="0" x2="0" y1="0" y2="1"><stop offset="0" stop-color="#c8c8c8"/><stop offset="0.55" stop-color="#c0c0c0"/><stop offset="1" stop-color="#b8b8b8"/></linearGradient></defs>
<rect x="305.6" y="797.9" width="99.90" height="36.10" fill="url(#ipg797)"/>
<rect x="309.70" y="812.00" width="20.00" height="22.00" fill="#8a8a8a" opacity="0.22" filter="url(#b2)"/>
<rect x="334.00" y="815.00" width="18.00" height="19.00" fill="#8a8a8a" opacity="0.22" filter="url(#b2)"/>
<rect x="357.50" y="815.00" width="18.00" height="19.00" fill="#8a8a8a" opacity="0.22" filter="url(#b2)"/>
<rect x="380.50" y="815.00" width="18.00" height="19.00" fill="#8a8a8a" opacity="0.22" filter="url(#b2)"/>
<rect x="308.95" y="822.60" width="21.50" height="7.60" rx="3.80" fill="#262626" opacity="0.20" filter="url(#b2)"/>
<rect x="310.45" y="824.10" width="18.50" height="4.60" rx="2.07" fill="#262626" opacity="1.0" filter="url(#b08)"/>
<rect x="332.25" y="822.00" width="21.50" height="7.20" rx="3.60" fill="#333333" opacity="0.20" filter="url(#b2)"/>
<rect x="333.75" y="823.50" width="18.50" height="4.20" rx="1.89" fill="#333333" opacity="1.0" filter="url(#b08)"/>
<rect x="356.00" y="821.00" width="21.00" height="7.20" rx="3.60" fill="#363636" opacity="0.20" filter="url(#b2)"/>
<rect x="357.50" y="822.50" width="18.00" height="4.20" rx="1.89" fill="#363636" opacity="1.0" filter="url(#b08)"/>
<rect x="378.80" y="820.80" width="21.40" height="7.20" rx="3.60" fill="#3a3a3a" opacity="0.20" filter="url(#b2)"/>
<rect x="380.30" y="822.30" width="18.40" height="4.20" rx="1.89" fill="#3a3a3a" opacity="1.0" filter="url(#b08)"/>
<rect x="312.80" y="807.90" width="17.00" height="2.20" rx="0.99" fill="#a6a6a6" opacity="1.0" filter="url(#b08)"/>
<rect x="357.80" y="807.50" width="16.00" height="2.20" rx="0.99" fill="#a6a6a6" opacity="1.0" filter="url(#b08)"/>
<rect x="305.60" y="797.90" width="99.90" height="36.10" fill="none" stroke="#1a1a1a" stroke-width="1.4"/>
<text transform="translate(270.10,813.30) scale(1,1.07)" font-size="13.60" fill="#1a1a1a">YAP</text>
<text transform="translate(408.90,814.82) scale(1,1.07)" font-size="13.44" fill="#1a1a1a">-60</text>
<text transform="translate(408.90,831.33) scale(1,1.07)" font-size="13.47" fill="#1a1a1a">-55</text>
<path d="M307.5,854.0 L320.5,838.8" stroke="#1a1a1a" stroke-width="1.2"/>
<path d="M320.5,838.8 L313.89,841.09" stroke="#1a1a1a" stroke-width="1.2"/>
<path d="M320.5,838.8 L319.26,845.69" stroke="#1a1a1a" stroke-width="1.2"/>
<text transform="translate(261.97,867.20) scale(1,1.07)" font-size="14.92" fill="#1a1a1a">heavy chain</text>
<path d="M493.8,587.5 V654.3" stroke="#1a1a1a" stroke-width="1.5"/>
<text transform="translate(455.83,630.20) scale(1,1.07)" font-size="14.87" fill="#1a1a1a">Input</text>
<text transform="translate(497.44,611.60) scale(1,1.07)" font-size="13.89" fill="#1a1a1a">β-actin</text>
<text transform="translate(510.34,646.60) scale(1,1.07)" font-size="13.87" fill="#1a1a1a">VHH</text>
<rect x="543.00" y="589.40" width="100.00" height="29.20" fill="#f1f1f1"/>
<rect x="543.00" y="622.70" width="100.00" height="29.70" fill="#f1f1f1"/>
<rect x="546.90" y="602.00" width="21.80" height="7.80" rx="3.90" fill="#4a4a4a" opacity="0.25" filter="url(#b2)"/>
<rect x="548.40" y="603.50" width="18.80" height="4.80" rx="2.16" fill="#4a4a4a" opacity="1.0" filter="url(#b08)"/>
<rect x="571.05" y="602.45" width="20.70" height="8.50" rx="4.25" fill="#4a4a4a" opacity="0.25" filter="url(#b2)"/>
<rect x="572.55" y="603.95" width="17.70" height="5.50" rx="2.48" fill="#4a4a4a" opacity="1.0" filter="url(#b08)"/>
<rect x="591.90" y="602.80" width="22.80" height="8.00" rx="4.00" fill="#4a4a4a" opacity="0.25" filter="url(#b2)"/>
<rect x="593.40" y="604.30" width="19.80" height="5.00" rx="2.25" fill="#4a4a4a" opacity="1.0" filter="url(#b08)"/>
<rect x="616.85" y="603.70" width="21.50" height="8.00" rx="4.00" fill="#505050" opacity="0.25" filter="url(#b2)"/>
<rect x="618.35" y="605.20" width="18.50" height="5.00" rx="2.25" fill="#505050" opacity="1.0" filter="url(#b08)"/>
<rect x="545.00" y="632.55" width="25.00" height="9.50" rx="4.75" fill="#686868" opacity="0.25" filter="url(#b2)"/>
<rect x="546.50" y="634.05" width="22.00" height="6.50" rx="2.93" fill="#686868" opacity="1.0" filter="url(#b08)"/>
<rect x="568.50" y="632.75" width="25.00" height="9.50" rx="4.75" fill="#6c6c6c" opacity="0.25" filter="url(#b2)"/>
<rect x="570.00" y="634.25" width="22.00" height="6.50" rx="2.93" fill="#6c6c6c" opacity="1.0" filter="url(#b08)"/>
<rect x="591.50" y="632.75" width="25.00" height="9.50" rx="4.75" fill="#6c6c6c" opacity="0.25" filter="url(#b2)"/>
<rect x="593.00" y="634.25" width="22.00" height="6.50" rx="2.93" fill="#6c6c6c" opacity="1.0" filter="url(#b08)"/>
<rect x="615.60" y="631.30" width="24.00" height="10.00" rx="5.00" fill="#686868" opacity="0.25" filter="url(#b2)"/>
<rect x="617.10" y="632.80" width="21.00" height="7.00" rx="3.15" fill="#686868" opacity="1.0" filter="url(#b08)"/>
<rect x="543.00" y="589.40" width="100.00" height="29.20" fill="none" stroke="#1a1a1a" stroke-width="1.4"/>
<rect x="543.00" y="622.70" width="100.00" height="29.70" fill="none" stroke="#1a1a1a" stroke-width="1.4"/>
<text transform="translate(642.81,581.60) scale(1,1.07)" font-size="12.76" fill="#1a1a1a">(kDa)</text>
<text transform="translate(645.21,615.80) scale(1,1.07)" font-size="13.36" fill="#1a1a1a">-40</text>
<text transform="translate(645.20,646.91) scale(1,1.07)" font-size="13.39" fill="#1a1a1a">-15</text>
<path d="M492.9,767.9 V834.8" stroke="#1a1a1a" stroke-width="1.5"/>
<text transform="translate(453.77,809.00) scale(1,1.07)" font-size="15.49" fill="#1a1a1a">Input</text>
<text transform="translate(497.24,791.00) scale(1,1.07)" font-size="13.86" fill="#1a1a1a">β-actin</text>
<text transform="translate(510.24,827.50) scale(1,1.07)" font-size="14.07" fill="#1a1a1a">VHH</text>
<rect x="543.20" y="770.20" width="100.10" height="29.60" fill="#e0e0e0"/>
<rect x="543.20" y="803.70" width="100.10" height="30.10" fill="#f2f2f2"/>
<rect x="546.80" y="783.30" width="24.00" height="6.80" rx="3.40" fill="#0c0c0c" opacity="0.25" filter="url(#b2)"/>
<rect x="548.30" y="784.80" width="21.00" height="3.80" rx="1.71" fill="#0c0c0c" opacity="1.0" filter="url(#b08)"/>
<rect x="571.75" y="784.50" width="21.50" height="6.60" rx="3.30" fill="#1a1a1a" opacity="0.25" filter="url(#b2)"/>
<rect x="573.25" y="786.00" width="18.50" height="3.60" rx="1.62" fill="#1a1a1a" opacity="1.0" filter="url(#b08)"/>
<rect x="595.10" y="782.80" width="23.00" height="6.80" rx="3.40" fill="#0c0c0c" opacity="0.25" filter="url(#b2)"/>
<rect x="596.60" y="784.30" width="20.00" height="3.80" rx="1.71" fill="#0c0c0c" opacity="1.0" filter="url(#b08)"/>
<rect x="618.50" y="782.40" width="23.00" height="7.00" rx="3.50" fill="#0c0c0c" opacity="0.25" filter="url(#b2)"/>
<rect x="620.00" y="783.90" width="20.00" height="4.00" rx="1.80" fill="#0c0c0c" opacity="1.0" filter="url(#b08)"/>
<rect x="545.80" y="818.50" width="23.40" height="7.40" rx="3.70" fill="#0c0c0c" opacity="0.25" filter="url(#b2)"/>
<rect x="547.30" y="820.00" width="20.40" height="4.40" rx="1.98" fill="#0c0c0c" opacity="1.0" filter="url(#b08)"/>
<rect x="570.50" y="818.60" width="21.20" height="7.20" rx="3.60" fill="#111111" opacity="0.25" filter="url(#b2)"/>
<rect x="572.00" y="820.10" width="18.20" height="4.20" rx="1.89" fill="#111111" opacity="1.0" filter="url(#b08)"/>
<rect x="592.95" y="817.60" width="23.30" height="7.20" rx="3.60" fill="#111111" opacity="0.25" filter="url(#b2)"/>
<rect x="594.45" y="819.10" width="20.30" height="4.20" rx="1.89" fill="#111111" opacity="1.0" filter="url(#b08)"/>
<rect x="618.50" y="816.60" width="23.00" height="7.60" rx="3.80" fill="#0a0a0a" opacity="0.25" filter="url(#b2)"/>
<rect x="620.00" y="818.10" width="20.00" height="4.60" rx="2.07" fill="#0a0a0a" opacity="1.0" filter="url(#b08)"/>
<rect x="543.20" y="770.20" width="100.10" height="29.60" fill="none" stroke="#1a1a1a" stroke-width="1.4"/>
<rect x="543.20" y="803.70" width="100.10" height="30.10" fill="none" stroke="#1a1a1a" stroke-width="1.4"/>
<text transform="translate(643.92,766.35) scale(1,1.07)" font-size="12.54" fill="#1a1a1a">(kDa)</text>
<text transform="translate(646.29,795.25) scale(1,1.07)" font-size="13.81" fill="#1a1a1a">-40</text>
<text transform="translate(646.29,826.96) scale(1,1.07)" font-size="13.83" fill="#1a1a1a">-15</text>
</svg>
</body></html>
